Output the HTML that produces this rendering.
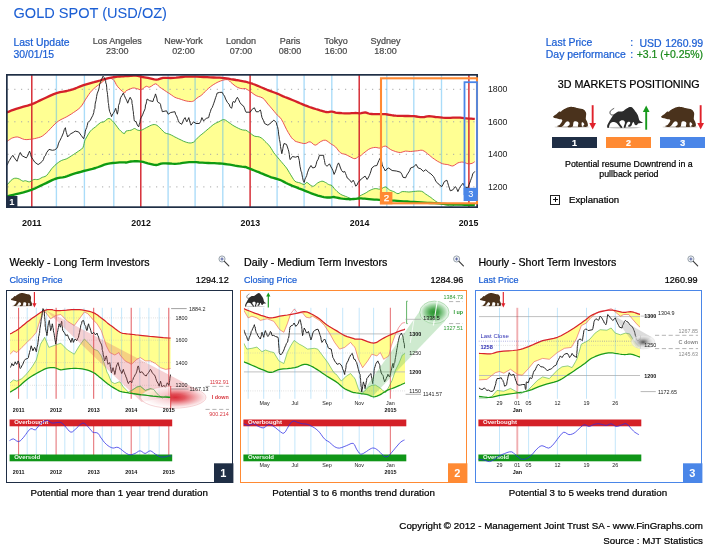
<!DOCTYPE html>
<html lang="en"><head><meta charset="utf-8"><title>GOLD SPOT (USD/OZ)</title>
<style>
html,body{margin:0;padding:0;background:#fff}
body{width:711px;height:552px;position:relative;overflow:hidden;font-family:"Liberation Sans",Arial,sans-serif;color:#000}
.t{position:absolute;white-space:nowrap;line-height:1;-webkit-text-stroke:0.22px currentColor}
svg{position:absolute;left:0;top:0;overflow:visible}
svg text{font-family:"Liberation Sans",Arial,sans-serif}
</style></head><body>
<svg width="711" height="552" viewBox="0 0 711 552">
<defs><clipPath id="cm"><rect x="7" y="75" width="470" height="132"/></clipPath></defs>
<rect x="7" y="75" width="470" height="132" fill="#fff"/>
<g clip-path="url(#cm)">
<path d="M6.0,112.7 L6.1,112.7 L6.1,112.6 L6.5,112.5 L7.4,112.2 L8.9,111.6 L10.9,110.7 L13.3,109.8 L16.1,108.8 L19.6,107.8 L23.5,106.7 L27.6,105.6 L31.3,104.4 L34.5,103.1 L37.3,101.8 L40.1,100.4 L43.1,99.0 L46.4,97.5 L49.8,95.9 L53.2,94.4 L56.6,93.1 L60.0,92.2 L63.4,91.6 L66.8,91.0 L70.1,90.2 L73.5,89.1 L76.9,87.8 L80.3,86.4 L83.6,85.2 L87.1,84.1 L90.6,83.1 L94.0,82.2 L97.1,81.3 L99.9,80.5 L102.4,79.7 L104.8,79.0 L107.3,78.4 L109.9,77.9 L112.5,77.4 L115.0,77.0 L117.4,76.7 L119.6,76.5 L121.8,76.4 L123.6,76.3 L125.0,76.2 L125.5,76.2 L125.3,76.2 L125.3,76.2 L126.0,76.2 L128.0,76.1 L130.8,75.9 L133.7,75.7 L136.1,75.7 L137.7,75.9 L138.9,76.1 L139.9,76.4 L141.2,76.7 L142.7,77.0 L144.4,77.3 L146.1,77.6 L147.9,77.9 L150.0,78.4 L152.2,78.9 L154.3,79.4 L156.4,79.6 L158.1,79.4 L159.6,78.9 L161.2,78.3 L163.1,77.9 L165.4,77.8 L167.9,77.9 L170.5,78.0 L173.3,77.9 L176.1,77.7 L179.1,77.3 L182.1,77.0 L185.1,76.7 L188.0,76.6 L190.9,76.6 L193.8,76.7 L196.9,76.7 L200.2,76.9 L203.6,77.0 L207.1,77.2 L210.4,77.4 L213.5,77.5 L216.6,77.6 L219.5,77.7 L222.2,77.9 L224.5,78.1 L226.5,78.4 L228.5,78.7 L230.6,79.1 L233.2,79.5 L236.0,80.0 L238.6,80.4 L240.8,80.8 L242.3,81.1 L243.4,81.3 L244.3,81.5 L245.0,81.6 L245.4,81.7 L245.5,81.7 L245.6,81.7 L246.0,81.8 L246.8,82.0 L247.8,82.3 L249.0,82.6 L250.2,83.0 L251.6,83.4 L253.0,84.0 L254.6,84.5 L256.1,85.2 L257.7,85.8 L259.3,86.5 L261.1,87.3 L262.9,88.0 L264.9,88.9 L267.1,89.8 L269.3,90.6 L271.3,91.4 L272.9,92.0 L274.3,92.5 L275.7,93.0 L277.2,93.6 L278.9,94.3 L280.8,95.2 L282.7,96.1 L284.8,97.0 L287.2,97.9 L289.7,98.9 L292.4,100.0 L294.9,101.0 L297.5,102.1 L300.1,103.3 L302.7,104.4 L305.1,105.4 L307.3,106.2 L309.4,107.0 L311.4,107.6 L313.5,108.3 L315.7,109.0 L317.9,109.6 L320.1,110.3 L321.9,110.8 L323.5,111.3 L324.7,111.7 L325.8,112.0 L327.0,112.2 L328.3,112.1 L329.5,111.9 L330.8,111.7 L332.1,111.7 L333.2,111.9 L334.3,112.2 L335.5,112.6 L337.1,112.8 L339.4,113.0 L342.0,113.2 L344.7,113.3 L347.3,113.4 L349.6,113.3 L351.8,113.2 L353.9,113.1 L355.7,113.0 L357.1,113.1 L358.1,113.2 L359.0,113.3 L360.0,113.4 L361.2,113.2 L362.5,112.9 L363.8,112.6 L365.1,112.5 L366.3,112.7 L367.5,113.1 L368.7,113.5 L370.1,113.9 L371.7,114.0 L373.3,114.1 L375.0,114.2 L376.9,114.2 L378.9,114.2 L381.0,114.1 L383.2,114.1 L385.3,114.2 L387.4,114.5 L389.5,114.8 L391.6,115.2 L393.8,115.5 L395.8,115.7 L397.8,115.8 L399.8,115.8 L402.2,115.9 L405.0,116.0 L408.1,116.0 L411.2,116.1 L414.0,116.2 L416.4,116.5 L418.5,116.8 L420.5,117.1 L422.4,117.2 L424.2,117.1 L425.8,116.7 L427.4,116.4 L429.2,116.2 L431.1,116.3 L433.2,116.6 L435.4,117.0 L437.6,117.2 L440.1,117.4 L442.6,117.7 L445.2,117.8 L447.8,117.9 L450.3,117.9 L452.9,117.7 L455.5,117.6 L457.9,117.6 L460.1,117.7 L462.2,117.9 L464.3,118.2 L466.3,118.4 L468.6,118.6 L471.1,118.7 L473.3,118.8 L474.8,118.9 L474.8,161.6 L474.2,162.1 L473.3,162.7 L472.2,163.3 L471.0,163.6 L469.5,163.8 L468.0,163.8 L466.4,163.3 L464.7,162.6 L463.0,162.1 L461.3,162.1 L459.6,162.4 L457.9,162.9 L456.2,164.0 L454.5,165.2 L452.8,166.0 L451.1,165.8 L449.5,165.2 L447.8,164.6 L446.1,164.4 L444.4,164.2 L442.7,163.8 L441.0,163.1 L439.3,162.2 L437.6,161.3 L435.9,160.2 L434.3,159.1 L432.6,157.9 L430.9,156.5 L429.2,155.0 L427.5,153.7 L425.8,152.3 L424.1,151.1 L422.4,150.3 L420.8,150.2 L419.2,150.5 L417.4,150.8 L415.2,151.0 L412.8,151.3 L410.6,151.5 L408.8,151.4 L407.2,151.2 L405.6,151.1 L403.9,151.5 L402.2,152.1 L400.5,152.5 L398.8,152.4 L397.1,152.0 L395.4,151.5 L393.8,150.9 L392.1,150.3 L390.4,149.4 L388.7,148.2 L387.0,146.8 L385.3,146.1 L383.6,146.4 L381.9,147.4 L380.3,148.1 L378.6,148.0 L376.9,147.6 L375.2,147.4 L373.5,147.6 L371.8,148.0 L370.1,148.6 L368.4,149.5 L366.8,150.7 L365.1,152.0 L363.2,153.5 L361.4,155.1 L360.0,156.2 L359.5,156.4 L359.5,156.2 L359.1,156.2 L357.9,157.0 L356.4,158.1 L354.9,158.7 L353.5,158.5 L352.1,157.8 L350.6,157.0 L349.0,156.2 L347.3,155.3 L345.6,154.5 L343.9,154.0 L342.2,153.7 L340.5,152.8 L338.8,151.1 L337.1,148.8 L335.5,146.9 L333.8,145.6 L332.1,144.6 L330.4,143.5 L328.7,142.2 L327.0,140.9 L325.3,140.2 L323.6,140.3 L321.9,141.0 L320.3,141.8 L318.6,143.1 L316.9,144.5 L315.2,145.2 L313.5,144.4 L311.8,142.8 L310.1,141.8 L308.4,142.1 L306.8,143.0 L305.1,143.5 L303.4,143.5 L301.7,143.1 L300.0,142.7 L298.2,142.2 L296.3,141.6 L294.9,141.0 L294.4,140.6 L294.4,140.3 L294.1,139.8 L293.5,139.5 L292.7,139.0 L291.6,137.8 L290.1,135.5 L288.3,132.6 L286.5,129.4 L284.8,125.9 L283.1,122.3 L281.4,119.3 L280.0,117.4 L278.6,116.3 L277.2,115.0 L275.8,113.4 L274.5,111.8 L273.0,110.0 L271.4,108.1 L269.7,106.1 L267.9,104.1 L266.3,102.0 L264.7,99.9 L262.9,98.2 L260.7,97.1 L258.4,96.5 L256.1,95.6 L254.0,94.3 L252.0,92.8 L250.2,91.4 L248.6,90.4 L247.1,89.5 L246.0,88.9 L245.5,88.6 L245.4,88.5 L245.0,88.5 L243.8,88.6 L242.4,88.7 L240.8,88.5 L239.1,88.0 L237.4,87.3 L235.7,86.3 L234.0,85.0 L232.2,83.5 L230.6,82.1 L229.5,81.0 L228.5,80.1 L227.3,79.6 L225.7,79.6 L224.0,79.9 L222.2,80.4 L220.5,81.0 L218.8,81.7 L217.1,82.5 L215.5,83.4 L213.8,84.4 L212.1,85.5 L210.4,86.8 L208.7,88.2 L207.0,89.7 L205.3,91.4 L203.6,93.2 L201.9,94.8 L200.2,96.1 L198.4,97.1 L196.9,98.2 L195.6,99.2 L194.6,100.3 L193.5,101.0 L192.4,101.4 L191.4,101.6 L190.1,101.5 L188.6,101.4 L186.8,101.1 L185.1,100.7 L183.4,100.2 L181.7,99.6 L180.0,99.0 L178.3,98.5 L176.6,98.0 L174.9,97.3 L173.3,96.3 L171.6,95.1 L169.9,93.9 L168.2,92.8 L166.5,91.7 L164.8,90.6 L163.1,89.4 L161.4,88.3 L159.8,87.2 L158.3,85.8 L157.0,84.4 L155.5,83.8 L153.6,84.6 L151.5,86.1 L149.6,87.2 L148.4,87.1 L147.4,86.5 L146.3,86.3 L144.6,87.3 L142.8,88.8 L141.2,89.7 L140.0,89.8 L139.0,89.3 L137.8,88.9 L136.3,88.5 L134.6,88.0 L132.8,88.0 L130.4,88.8 L127.9,89.9 L126.0,90.9 L125.3,91.7 L125.2,92.4 L125.0,92.8 L124.3,92.7 L123.5,92.3 L122.5,91.4 L120.9,90.0 L119.0,88.2 L117.4,86.3 L116.1,84.3 L115.1,82.2 L114.0,80.4 L113.0,79.4 L111.9,78.7 L110.6,78.4 L109.1,78.5 L107.3,78.9 L105.6,79.6 L103.9,80.7 L102.2,82.1 L100.5,83.5 L98.8,84.7 L97.1,85.9 L95.5,87.2 L93.8,88.7 L92.1,90.3 L90.4,92.3 L88.7,94.6 L87.0,97.2 L85.3,99.8 L83.7,102.5 L82.1,105.1 L80.3,107.4 L78.1,109.3 L75.8,111.0 L73.5,112.5 L71.3,114.0 L69.0,115.4 L66.8,116.7 L64.4,117.9 L62.1,119.0 L60.0,120.1 L58.3,121.2 L56.7,122.4 L54.9,124.0 L52.8,126.2 L50.4,128.7 L48.2,131.1 L46.2,133.0 L44.2,134.7 L42.3,136.1 L40.3,137.1 L38.3,137.7 L36.4,138.2 L34.7,138.6 L33.1,138.9 L31.3,139.2 L29.2,139.4 L26.9,139.6 L24.6,139.5 L22.3,138.8 L19.9,137.7 L17.8,137.0 L15.9,137.0 L14.2,137.4 L12.8,137.8 L11.7,138.2 L11.0,138.7 L10.2,139.2 L9.2,139.9 L8.2,140.6 L7.4,141.2 L6.7,141.4 L6.3,141.5 L6.0,141.5Z" fill="#ffff93"/>
<path d="M6.0,185.2 L6.2,185.2 L6.6,185.2 L7.4,184.5 L8.9,182.9 L10.8,180.6 L12.8,179.0 L14.5,178.3 L16.1,178.2 L17.8,178.5 L19.6,179.2 L21.4,180.4 L22.9,181.2 L23.8,181.2 L24.5,180.8 L25.4,180.7 L26.7,181.1 L28.2,181.7 L29.6,181.8 L31.0,181.2 L32.4,180.2 L33.8,179.5 L35.3,179.4 L36.7,179.6 L38.1,179.5 L39.5,178.9 L40.9,178.1 L42.3,177.3 L43.7,176.9 L45.0,176.5 L46.5,175.6 L48.1,173.7 L49.9,171.2 L51.6,168.8 L53.3,167.0 L54.9,165.3 L56.6,163.8 L58.3,162.5 L60.0,161.3 L61.7,160.4 L63.3,159.8 L64.9,159.4 L66.8,158.7 L68.9,157.5 L71.3,155.9 L73.5,154.5 L75.4,153.3 L77.0,152.2 L78.6,151.1 L80.1,150.1 L81.6,149.1 L82.8,147.8 L83.6,145.8 L84.1,143.6 L84.5,141.8 L84.7,141.0 L84.8,140.6 L85.3,139.5 L86.7,137.0 L88.5,133.8 L90.4,131.1 L92.1,129.4 L93.8,128.1 L95.5,126.9 L97.2,125.3 L99.0,123.8 L100.5,122.6 L101.7,122.2 L102.7,122.1 L103.9,121.8 L105.5,120.6 L107.2,119.1 L109.0,118.4 L110.6,119.2 L112.3,120.8 L114.0,122.6 L115.7,124.8 L117.4,127.2 L119.1,129.4 L120.9,131.2 L122.7,132.8 L124.1,133.6 L124.9,133.2 L125.3,132.0 L126.0,131.1 L127.5,130.7 L129.4,130.5 L131.1,130.2 L132.3,129.6 L133.4,128.9 L134.4,128.5 L135.6,128.9 L136.7,129.7 L137.8,130.2 L138.9,130.4 L139.9,130.5 L141.2,130.2 L142.8,129.6 L144.5,128.6 L146.3,127.7 L148.0,126.8 L149.7,125.9 L151.3,125.2 L152.8,124.7 L154.2,124.5 L155.5,124.7 L156.9,125.3 L158.3,126.4 L159.8,127.7 L161.4,129.4 L163.1,131.2 L164.8,132.8 L166.5,133.5 L168.2,133.9 L169.9,134.4 L171.6,135.2 L173.3,136.1 L174.9,137.0 L176.6,137.8 L178.3,138.7 L180.0,139.5 L181.7,140.3 L183.4,141.2 L185.1,141.8 L186.8,142.4 L188.5,142.8 L190.1,143.0 L191.7,142.8 L193.2,142.3 L194.4,141.8 L194.8,141.4 L194.9,141.0 L195.2,140.4 L196.1,139.4 L197.2,138.2 L198.6,137.0 L200.1,135.6 L201.9,134.2 L203.6,132.8 L205.3,131.4 L207.0,129.9 L208.7,128.5 L210.4,127.1 L212.1,125.6 L213.8,124.3 L215.5,123.3 L217.1,122.5 L218.8,121.8 L220.5,120.8 L222.2,119.9 L223.9,119.6 L225.6,120.2 L227.3,121.4 L229.0,122.6 L230.6,123.7 L232.2,124.9 L234.0,126.0 L236.2,127.2 L238.6,128.4 L240.8,129.4 L242.5,129.9 L243.9,130.1 L245.0,130.2 L245.4,130.2 L245.5,130.0 L246.0,130.2 L247.2,131.0 L248.7,132.0 L250.2,133.1 L251.6,134.2 L253.0,135.3 L254.4,136.1 L256.1,136.5 L257.8,136.6 L259.5,137.0 L261.1,137.8 L262.6,138.9 L263.7,139.8 L264.1,140.2 L264.1,140.4 L264.6,141.0 L266.0,142.3 L267.8,144.1 L269.6,146.1 L271.1,148.3 L272.5,150.6 L273.8,152.8 L275.3,154.6 L276.7,156.3 L278.1,157.9 L279.5,159.6 L280.9,161.3 L282.3,162.9 L283.7,164.6 L285.1,166.2 L286.5,168.0 L287.9,170.1 L289.3,172.5 L290.7,174.8 L292.1,177.1 L293.5,179.4 L294.9,181.2 L296.6,182.1 L298.4,182.5 L300.0,182.9 L301.5,183.6 L303.0,184.3 L304.2,184.5 L305.2,183.9 L305.9,182.9 L306.8,182.4 L307.8,182.9 L309.0,184.0 L310.1,184.9 L311.2,185.6 L312.3,186.2 L313.5,186.2 L314.9,185.4 L316.3,184.0 L317.7,182.9 L319.2,182.1 L320.6,181.5 L321.9,181.2 L323.1,181.3 L324.2,181.8 L325.3,182.4 L326.5,183.0 L327.6,183.9 L328.7,184.5 L329.8,184.9 L331.0,185.1 L332.1,185.7 L333.1,186.9 L334.2,188.4 L335.5,189.9 L337.0,191.4 L338.8,192.9 L340.5,194.2 L342.2,195.1 L343.9,195.7 L345.6,196.4 L347.3,197.1 L349.0,197.8 L350.6,198.4 L352.4,198.9 L354.1,199.0 L355.7,198.9 L357.2,198.4 L358.5,197.1 L360.0,195.9 L361.6,195.0 L363.3,194.2 L365.1,193.3 L366.8,192.3 L368.4,191.2 L370.1,190.3 L371.8,189.5 L373.5,188.9 L375.2,188.6 L376.9,188.7 L378.6,189.1 L380.3,189.1 L382.0,188.4 L383.7,187.4 L385.3,186.9 L386.8,187.6 L388.2,188.8 L389.5,189.9 L390.9,190.6 L392.3,191.1 L393.8,191.6 L395.2,192.4 L396.6,193.3 L398.0,193.7 L399.3,193.2 L400.6,192.3 L402.2,191.6 L404.3,191.6 L406.6,191.8 L408.9,192.0 L411.2,191.8 L413.5,191.5 L415.7,191.3 L417.8,191.1 L419.8,191.1 L421.6,191.3 L423.1,192.0 L424.4,193.1 L425.8,194.2 L427.4,195.2 L429.2,196.4 L430.9,197.5 L432.6,198.9 L434.3,200.2 L435.9,201.4 L437.6,202.4 L439.3,203.1 L441.0,203.7 L442.7,203.8 L444.4,203.9 L446.1,204.0 L447.8,204.1 L449.5,204.2 L451.1,204.3 L452.8,204.4 L454.5,204.4 L456.2,204.5 L457.8,204.5 L459.5,204.3 L461.3,204.3 L463.4,204.6 L465.7,204.8 L468.0,204.9 L470.5,205.0 L473.0,204.7 L474.8,204.3 L474.8,205.1 L473.0,205.1 L470.5,205.0 L468.0,204.9 L465.7,204.8 L463.4,204.8 L461.3,204.7 L459.5,204.6 L457.8,204.6 L456.2,204.5 L454.5,204.4 L452.8,204.4 L451.1,204.3 L449.5,204.2 L447.8,204.1 L446.1,204.0 L444.4,203.9 L442.7,203.8 L441.0,203.7 L439.3,203.6 L437.6,203.4 L435.9,203.3 L434.3,203.2 L432.6,203.1 L430.9,203.0 L429.2,202.9 L427.4,202.8 L425.8,202.7 L424.4,202.6 L423.1,202.5 L421.6,202.4 L419.8,202.3 L417.8,202.2 L415.7,202.1 L413.5,201.9 L411.2,201.8 L408.9,201.7 L406.6,201.5 L404.3,201.4 L402.2,201.2 L400.6,201.1 L399.3,201.1 L398.0,201.0 L396.6,200.9 L395.2,200.8 L393.8,200.6 L392.3,200.5 L390.9,200.4 L389.5,200.3 L388.2,200.2 L386.8,200.1 L385.3,200.0 L383.7,199.9 L382.0,199.9 L380.3,199.9 L378.6,199.8 L376.9,199.7 L375.2,199.6 L373.5,199.5 L371.8,199.3 L370.1,199.2 L368.4,199.0 L366.8,198.9 L365.1,198.7 L363.3,198.6 L361.6,198.5 L360.0,198.4 L358.5,198.6 L357.2,198.7 L355.7,198.9 L354.1,199.0 L352.4,199.1 L350.6,199.2 L349.0,199.2 L347.3,199.1 L345.6,199.0 L343.9,198.8 L342.2,198.6 L340.5,198.4 L338.8,198.1 L337.0,197.6 L335.5,197.3 L334.2,197.1 L333.1,197.0 L332.1,197.1 L331.0,197.3 L329.8,197.5 L328.7,197.5 L327.6,197.5 L326.5,197.4 L325.3,197.3 L324.2,197.1 L323.1,196.9 L321.9,196.7 L320.6,196.4 L319.2,196.0 L317.7,195.6 L316.3,195.1 L314.9,194.6 L313.5,194.2 L312.3,193.7 L311.2,193.3 L310.1,192.9 L309.0,192.4 L307.8,191.9 L306.8,191.5 L305.9,191.1 L305.2,190.8 L304.2,190.5 L303.0,190.0 L301.5,189.4 L300.0,188.8 L298.4,188.1 L296.6,187.4 L294.9,186.8 L293.5,186.2 L292.1,185.7 L290.7,185.1 L289.3,184.5 L287.9,183.9 L286.5,183.2 L285.1,182.5 L283.7,181.7 L282.3,181.0 L280.9,180.3 L279.5,179.7 L278.1,179.2 L276.7,178.8 L275.3,178.4 L273.8,178.1 L272.5,177.6 L271.1,177.2 L269.6,176.7 L267.8,176.0 L266.0,175.2 L264.6,174.6 L264.1,174.4 L264.1,174.4 L263.7,174.3 L262.6,173.8 L261.1,173.2 L259.5,172.6 L257.8,171.9 L256.1,171.2 L254.4,170.5 L253.0,169.9 L251.6,169.4 L250.2,168.8 L248.7,168.2 L247.2,167.6 L246.0,167.2 L245.5,167.0 L245.4,167.0 L245.0,167.0 L243.9,166.9 L242.5,166.7 L240.8,166.4 L238.6,166.2 L236.2,165.8 L234.0,165.4 L232.2,165.1 L230.6,164.8 L229.0,164.5 L227.3,164.3 L225.6,164.1 L223.9,163.9 L222.2,163.7 L220.5,163.5 L218.8,163.4 L217.1,163.3 L215.5,163.2 L213.8,163.1 L212.1,163.1 L210.4,163.1 L208.7,163.1 L207.0,163.0 L205.3,162.9 L203.6,162.8 L201.9,162.7 L200.1,162.5 L198.6,162.4 L197.2,162.3 L196.1,162.2 L195.2,162.2 L194.9,162.2 L194.8,162.2 L194.4,162.1 L193.2,162.1 L191.7,162.1 L190.1,162.2 L188.5,162.3 L186.8,162.4 L185.1,162.6 L183.4,162.8 L181.7,163.0 L180.0,163.3 L178.3,163.5 L176.6,163.7 L174.9,163.8 L173.3,163.8 L171.6,163.7 L169.9,163.6 L168.2,163.5 L166.5,163.3 L164.8,163.3 L163.1,163.3 L161.4,163.6 L159.8,164.1 L158.3,164.7 L156.9,164.9 L155.5,164.9 L154.2,164.7 L152.8,164.5 L151.3,164.1 L149.7,163.7 L148.0,163.3 L146.3,162.8 L144.5,162.3 L142.8,161.9 L141.2,161.6 L139.9,161.5 L138.9,161.4 L137.8,161.3 L136.7,161.2 L135.6,161.2 L134.4,161.2 L133.4,161.2 L132.3,161.3 L131.1,161.5 L129.4,161.8 L127.5,162.3 L126.0,162.6 L125.3,162.3 L124.9,162.3 L124.1,162.3 L122.7,162.3 L120.9,162.4 L119.1,162.5 L117.4,162.6 L115.7,162.7 L114.0,162.8 L112.3,163.0 L110.6,163.2 L109.0,163.5 L107.2,163.8 L105.5,164.3 L103.9,164.9 L102.7,165.3 L101.7,165.7 L100.5,166.2 L99.0,166.8 L97.2,167.4 L95.5,168.0 L93.8,168.5 L92.1,168.9 L90.4,169.4 L88.5,169.8 L86.7,170.3 L85.3,170.6 L84.8,170.8 L84.7,170.8 L84.5,170.8 L84.1,170.9 L83.6,171.1 L82.8,171.3 L81.6,171.6 L80.1,172.0 L78.6,172.4 L77.0,172.9 L75.4,173.4 L73.5,173.9 L71.3,174.6 L68.9,175.5 L66.8,176.3 L64.9,176.8 L63.3,177.2 L61.7,177.5 L60.0,177.7 L58.3,178.1 L56.6,178.5 L54.9,179.0 L53.3,179.7 L51.6,180.4 L49.9,181.2 L48.1,182.1 L46.5,182.9 L45.0,183.6 L43.7,184.3 L42.3,185.0 L40.9,185.6 L39.5,186.3 L38.1,187.0 L36.7,187.7 L35.3,188.3 L33.8,188.9 L32.4,189.5 L31.0,190.0 L29.6,190.5 L28.2,191.0 L26.7,191.4 L25.4,191.7 L24.5,192.0 L23.8,192.2 L22.9,192.4 L21.4,192.8 L19.6,193.3 L17.8,193.7 L16.1,194.2 L14.5,194.6 L12.8,195.0 L10.8,195.5 L8.9,196.0 L7.4,196.4 L6.6,196.6 L6.2,196.7 L6.0,196.9Z" fill="#ffff93"/>
<line x1="7.5" x2="477" y1="89.3" y2="89.3" stroke="#a8a8a8" stroke-width="1" stroke-dasharray="1.2 5.55"/>
<line x1="7.5" x2="477" y1="121.8" y2="121.8" stroke="#a8a8a8" stroke-width="1" stroke-dasharray="1.2 5.55"/>
<line x1="7.5" x2="477" y1="154.3" y2="154.3" stroke="#a8a8a8" stroke-width="1" stroke-dasharray="1.2 5.55"/>
<line x1="7.5" x2="477" y1="186.9" y2="186.9" stroke="#a8a8a8" stroke-width="1" stroke-dasharray="1.2 5.55"/>
<line x1="56.4" x2="56.4" y1="75" y2="207" stroke="#56b9f3" stroke-opacity="0.5" stroke-width="1.35"/>
<line x1="84.4" x2="84.4" y1="75" y2="207" stroke="#56b9f3" stroke-opacity="0.5" stroke-width="1.35"/>
<line x1="113.8" x2="113.8" y1="75" y2="207" stroke="#56b9f3" stroke-opacity="0.5" stroke-width="1.35"/>
<line x1="168.1" x2="168.1" y1="75" y2="207" stroke="#56b9f3" stroke-opacity="0.5" stroke-width="1.35"/>
<line x1="195.1" x2="195.1" y1="75" y2="207" stroke="#56b9f3" stroke-opacity="0.5" stroke-width="1.35"/>
<line x1="222.8" x2="222.8" y1="75" y2="207" stroke="#56b9f3" stroke-opacity="0.5" stroke-width="1.35"/>
<line x1="277.1" x2="277.1" y1="75" y2="207" stroke="#56b9f3" stroke-opacity="0.5" stroke-width="1.35"/>
<line x1="304.1" x2="304.1" y1="75" y2="207" stroke="#56b9f3" stroke-opacity="0.5" stroke-width="1.35"/>
<line x1="331.8" x2="331.8" y1="75" y2="207" stroke="#56b9f3" stroke-opacity="0.5" stroke-width="1.35"/>
<line x1="386.8" x2="386.8" y1="75" y2="207" stroke="#56b9f3" stroke-opacity="0.5" stroke-width="1.35"/>
<line x1="413.8" x2="413.8" y1="75" y2="207" stroke="#56b9f3" stroke-opacity="0.5" stroke-width="1.35"/>
<line x1="441.5" x2="441.5" y1="75" y2="207" stroke="#56b9f3" stroke-opacity="0.5" stroke-width="1.35"/>
<line x1="31.8" x2="31.8" y1="75" y2="207" stroke="#d4202a" stroke-width="1.4"/>
<line x1="140.8" x2="140.8" y1="75" y2="207" stroke="#d4202a" stroke-width="1.4"/>
<line x1="250.1" x2="250.1" y1="75" y2="207" stroke="#d4202a" stroke-width="1.4"/>
<line x1="359.2" x2="359.2" y1="75" y2="207" stroke="#d4202a" stroke-width="1.4"/>
<line x1="468.9" x2="468.9" y1="75" y2="207" stroke="#d4202a" stroke-width="1.4"/>
<path d="M6.0,141.5 L6.3,141.5 L6.7,141.4 L7.4,141.2 L8.2,140.6 L9.2,139.9 L10.2,139.2 L11.0,138.7 L11.7,138.2 L12.8,137.8 L14.2,137.4 L15.9,137.0 L17.8,137.0 L19.9,137.7 L22.3,138.8 L24.6,139.5 L26.9,139.6 L29.2,139.4 L31.3,139.2 L33.1,138.9 L34.7,138.6 L36.4,138.2 L38.3,137.7 L40.3,137.1 L42.3,136.1 L44.2,134.7 L46.2,133.0 L48.2,131.1 L50.4,128.7 L52.8,126.2 L54.9,124.0 L56.7,122.4 L58.3,121.2 L60.0,120.1 L62.1,119.0 L64.4,117.9 L66.8,116.7 L69.0,115.4 L71.3,114.0 L73.5,112.5 L75.8,111.0 L78.1,109.3 L80.3,107.4 L82.1,105.1 L83.7,102.5 L85.3,99.8 L87.0,97.2 L88.7,94.6 L90.4,92.3 L92.1,90.3 L93.8,88.7 L95.5,87.2 L97.1,85.9 L98.8,84.7 L100.5,83.5 L102.2,82.1 L103.9,80.7 L105.6,79.6 L107.3,78.9 L109.1,78.5 L110.6,78.4 L111.9,78.7 L113.0,79.4 L114.0,80.4 L115.1,82.2 L116.1,84.3 L117.4,86.3 L119.0,88.2 L120.9,90.0 L122.5,91.4 L123.5,92.3 L124.3,92.7 L125.0,92.8 L125.2,92.4 L125.3,91.7 L126.0,90.9 L127.9,89.9 L130.4,88.8 L132.8,88.0 L134.6,88.0 L136.3,88.5 L137.8,88.9 L139.0,89.3 L140.0,89.8 L141.2,89.7 L142.8,88.8 L144.6,87.3 L146.3,86.3 L147.4,86.5 L148.4,87.1 L149.6,87.2 L151.5,86.1 L153.6,84.6 L155.5,83.8 L157.0,84.4 L158.3,85.8 L159.8,87.2 L161.4,88.3 L163.1,89.4 L164.8,90.6 L166.5,91.7 L168.2,92.8 L169.9,93.9 L171.6,95.1 L173.3,96.3 L174.9,97.3 L176.6,98.0 L178.3,98.5 L180.0,99.0 L181.7,99.6 L183.4,100.2 L185.1,100.7 L186.8,101.1 L188.6,101.4 L190.1,101.5 L191.4,101.6 L192.4,101.4 L193.5,101.0 L194.6,100.3 L195.6,99.2 L196.9,98.2 L198.4,97.1 L200.2,96.1 L201.9,94.8 L203.6,93.2 L205.3,91.4 L207.0,89.7 L208.7,88.2 L210.4,86.8 L212.1,85.5 L213.8,84.4 L215.5,83.4 L217.1,82.5 L218.8,81.7 L220.5,81.0 L222.2,80.4 L224.0,79.9 L225.7,79.6 L227.3,79.6 L228.5,80.1 L229.5,81.0 L230.6,82.1 L232.2,83.5 L234.0,85.0 L235.7,86.3 L237.4,87.3 L239.1,88.0 L240.8,88.5 L242.4,88.7 L243.8,88.6 L245.0,88.5 L245.4,88.5 L245.5,88.6 L246.0,88.9 L247.1,89.5 L248.6,90.4 L250.2,91.4 L252.0,92.8 L254.0,94.3 L256.1,95.6 L258.4,96.5 L260.7,97.1 L262.9,98.2 L264.7,99.9 L266.3,102.0 L267.9,104.1 L269.7,106.1 L271.4,108.1 L273.0,110.0 L274.5,111.8 L275.8,113.4 L277.2,115.0 L278.6,116.3 L280.0,117.4 L281.4,119.3 L283.1,122.3 L284.8,125.9 L286.5,129.4 L288.3,132.6 L290.1,135.5 L291.6,137.8 L292.7,139.0 L293.5,139.5 L294.1,139.8 L294.4,140.3 L294.4,140.6 L294.9,141.0 L296.3,141.6 L298.2,142.2 L300.0,142.7 L301.7,143.1 L303.4,143.5 L305.1,143.5 L306.8,143.0 L308.4,142.1 L310.1,141.8 L311.8,142.8 L313.5,144.4 L315.2,145.2 L316.9,144.5 L318.6,143.1 L320.3,141.8 L321.9,141.0 L323.6,140.3 L325.3,140.2 L327.0,140.9 L328.7,142.2 L330.4,143.5 L332.1,144.6 L333.8,145.6 L335.5,146.9 L337.1,148.8 L338.8,151.1 L340.5,152.8 L342.2,153.7 L343.9,154.0 L345.6,154.5 L347.3,155.3 L349.0,156.2 L350.6,157.0 L352.1,157.8 L353.5,158.5 L354.9,158.7 L356.4,158.1 L357.9,157.0 L359.1,156.2 L359.5,156.2 L359.5,156.4 L360.0,156.2 L361.4,155.1 L363.2,153.5 L365.1,152.0 L366.8,150.7 L368.4,149.5 L370.1,148.6 L371.8,148.0 L373.5,147.6 L375.2,147.4 L376.9,147.6 L378.6,148.0 L380.3,148.1 L381.9,147.4 L383.6,146.4 L385.3,146.1 L387.0,146.8 L388.7,148.2 L390.4,149.4 L392.1,150.3 L393.8,150.9 L395.4,151.5 L397.1,152.0 L398.8,152.4 L400.5,152.5 L402.2,152.1 L403.9,151.5 L405.6,151.1 L407.2,151.2 L408.8,151.4 L410.6,151.5 L412.8,151.3 L415.2,151.0 L417.4,150.8 L419.2,150.5 L420.8,150.2 L422.4,150.3 L424.1,151.1 L425.8,152.3 L427.5,153.7 L429.2,155.0 L430.9,156.5 L432.6,157.9 L434.3,159.1 L435.9,160.2 L437.6,161.3 L439.3,162.2 L441.0,163.1 L442.7,163.8 L444.4,164.2 L446.1,164.4 L447.8,164.6 L449.5,165.2 L451.1,165.8 L452.8,166.0 L454.5,165.2 L456.2,164.0 L457.9,162.9 L459.6,162.4 L461.3,162.1 L463.0,162.1 L464.7,162.6 L466.4,163.3 L468.0,163.8 L469.5,163.8 L471.0,163.6 L472.2,163.3 L473.3,162.7 L474.2,162.1 L474.8,161.6" fill="none" stroke="#e8414b" stroke-width="0.9"/>
<path d="M6.0,185.2 L6.2,185.2 L6.6,185.2 L7.4,184.5 L8.9,182.9 L10.8,180.6 L12.8,179.0 L14.5,178.3 L16.1,178.2 L17.8,178.5 L19.6,179.2 L21.4,180.4 L22.9,181.2 L23.8,181.2 L24.5,180.8 L25.4,180.7 L26.7,181.1 L28.2,181.7 L29.6,181.8 L31.0,181.2 L32.4,180.2 L33.8,179.5 L35.3,179.4 L36.7,179.6 L38.1,179.5 L39.5,178.9 L40.9,178.1 L42.3,177.3 L43.7,176.9 L45.0,176.5 L46.5,175.6 L48.1,173.7 L49.9,171.2 L51.6,168.8 L53.3,167.0 L54.9,165.3 L56.6,163.8 L58.3,162.5 L60.0,161.3 L61.7,160.4 L63.3,159.8 L64.9,159.4 L66.8,158.7 L68.9,157.5 L71.3,155.9 L73.5,154.5 L75.4,153.3 L77.0,152.2 L78.6,151.1 L80.1,150.1 L81.6,149.1 L82.8,147.8 L83.6,145.8 L84.1,143.6 L84.5,141.8 L84.7,141.0 L84.8,140.6 L85.3,139.5 L86.7,137.0 L88.5,133.8 L90.4,131.1 L92.1,129.4 L93.8,128.1 L95.5,126.9 L97.2,125.3 L99.0,123.8 L100.5,122.6 L101.7,122.2 L102.7,122.1 L103.9,121.8 L105.5,120.6 L107.2,119.1 L109.0,118.4 L110.6,119.2 L112.3,120.8 L114.0,122.6 L115.7,124.8 L117.4,127.2 L119.1,129.4 L120.9,131.2 L122.7,132.8 L124.1,133.6 L124.9,133.2 L125.3,132.0 L126.0,131.1 L127.5,130.7 L129.4,130.5 L131.1,130.2 L132.3,129.6 L133.4,128.9 L134.4,128.5 L135.6,128.9 L136.7,129.7 L137.8,130.2 L138.9,130.4 L139.9,130.5 L141.2,130.2 L142.8,129.6 L144.5,128.6 L146.3,127.7 L148.0,126.8 L149.7,125.9 L151.3,125.2 L152.8,124.7 L154.2,124.5 L155.5,124.7 L156.9,125.3 L158.3,126.4 L159.8,127.7 L161.4,129.4 L163.1,131.2 L164.8,132.8 L166.5,133.5 L168.2,133.9 L169.9,134.4 L171.6,135.2 L173.3,136.1 L174.9,137.0 L176.6,137.8 L178.3,138.7 L180.0,139.5 L181.7,140.3 L183.4,141.2 L185.1,141.8 L186.8,142.4 L188.5,142.8 L190.1,143.0 L191.7,142.8 L193.2,142.3 L194.4,141.8 L194.8,141.4 L194.9,141.0 L195.2,140.4 L196.1,139.4 L197.2,138.2 L198.6,137.0 L200.1,135.6 L201.9,134.2 L203.6,132.8 L205.3,131.4 L207.0,129.9 L208.7,128.5 L210.4,127.1 L212.1,125.6 L213.8,124.3 L215.5,123.3 L217.1,122.5 L218.8,121.8 L220.5,120.8 L222.2,119.9 L223.9,119.6 L225.6,120.2 L227.3,121.4 L229.0,122.6 L230.6,123.7 L232.2,124.9 L234.0,126.0 L236.2,127.2 L238.6,128.4 L240.8,129.4 L242.5,129.9 L243.9,130.1 L245.0,130.2 L245.4,130.2 L245.5,130.0 L246.0,130.2 L247.2,131.0 L248.7,132.0 L250.2,133.1 L251.6,134.2 L253.0,135.3 L254.4,136.1 L256.1,136.5 L257.8,136.6 L259.5,137.0 L261.1,137.8 L262.6,138.9 L263.7,139.8 L264.1,140.2 L264.1,140.4 L264.6,141.0 L266.0,142.3 L267.8,144.1 L269.6,146.1 L271.1,148.3 L272.5,150.6 L273.8,152.8 L275.3,154.6 L276.7,156.3 L278.1,157.9 L279.5,159.6 L280.9,161.3 L282.3,162.9 L283.7,164.6 L285.1,166.2 L286.5,168.0 L287.9,170.1 L289.3,172.5 L290.7,174.8 L292.1,177.1 L293.5,179.4 L294.9,181.2 L296.6,182.1 L298.4,182.5 L300.0,182.9 L301.5,183.6 L303.0,184.3 L304.2,184.5 L305.2,183.9 L305.9,182.9 L306.8,182.4 L307.8,182.9 L309.0,184.0 L310.1,184.9 L311.2,185.6 L312.3,186.2 L313.5,186.2 L314.9,185.4 L316.3,184.0 L317.7,182.9 L319.2,182.1 L320.6,181.5 L321.9,181.2 L323.1,181.3 L324.2,181.8 L325.3,182.4 L326.5,183.0 L327.6,183.9 L328.7,184.5 L329.8,184.9 L331.0,185.1 L332.1,185.7 L333.1,186.9 L334.2,188.4 L335.5,189.9 L337.0,191.4 L338.8,192.9 L340.5,194.2 L342.2,195.1 L343.9,195.7 L345.6,196.4 L347.3,197.1 L349.0,197.8 L350.6,198.4 L352.4,198.9 L354.1,199.3 L355.7,199.2 L357.2,198.4 L358.5,197.1 L360.0,195.9 L361.6,195.0 L363.3,194.2 L365.1,193.3 L366.8,192.3 L368.4,191.2 L370.1,190.3 L371.8,189.5 L373.5,188.9 L375.2,188.6 L376.9,188.7 L378.6,189.1 L380.3,189.1 L382.0,188.4 L383.7,187.4 L385.3,186.9 L386.8,187.6 L388.2,188.8 L389.5,189.9 L390.9,190.6 L392.3,191.1 L393.8,191.6 L395.2,192.4 L396.6,193.3 L398.0,193.7 L399.3,193.2 L400.6,192.3 L402.2,191.6 L404.3,191.6 L406.6,191.8 L408.9,192.0 L411.2,191.8 L413.5,191.5 L415.7,191.3 L417.8,191.1 L419.8,191.1 L421.6,191.3 L423.1,192.0 L424.4,193.1 L425.8,194.2 L427.4,195.2 L429.2,196.4 L430.9,197.5 L432.6,198.9 L434.3,200.2 L435.9,201.4 L437.6,202.4 L439.3,203.1 L441.0,203.8 L442.7,204.3 L444.4,204.8 L446.1,205.1 L447.8,205.5 L449.5,205.9 L451.1,206.0 L452.8,205.7 L454.5,205.2 L456.2,204.8 L457.8,204.5 L459.5,204.3 L461.3,204.3 L463.4,204.6 L465.7,205.2 L468.0,205.5 L470.5,205.2 L473.0,204.7 L474.8,204.3" fill="none" stroke="#3aa83a" stroke-width="0.9"/>
<path d="M6.0,112.7 L6.1,112.7 L6.1,112.6 L6.5,112.5 L7.4,112.2 L8.9,111.6 L10.9,110.7 L13.3,109.8 L16.1,108.8 L19.6,107.8 L23.5,106.7 L27.6,105.6 L31.3,104.4 L34.5,103.1 L37.3,101.8 L40.1,100.4 L43.1,99.0 L46.4,97.5 L49.8,95.9 L53.2,94.4 L56.6,93.1 L60.0,92.2 L63.4,91.6 L66.8,91.0 L70.1,90.2 L73.5,89.1 L76.9,87.8 L80.3,86.4 L83.6,85.2 L87.1,84.1 L90.6,83.1 L94.0,82.2 L97.1,81.3 L99.9,80.5 L102.4,79.7 L104.8,79.0 L107.3,78.4 L109.9,77.9 L112.5,77.4 L115.0,77.0 L117.4,76.7 L119.6,76.5 L121.8,76.4 L123.6,76.3 L125.0,76.2 L125.5,76.2 L125.3,76.2 L125.3,76.2 L126.0,76.2 L128.0,76.1 L130.8,75.9 L133.7,75.7 L136.1,75.7 L137.7,75.9 L138.9,76.1 L139.9,76.4 L141.2,76.7 L142.7,77.0 L144.4,77.3 L146.1,77.6 L147.9,77.9 L150.0,78.4 L152.2,78.9 L154.3,79.4 L156.4,79.6 L158.1,79.4 L159.6,78.9 L161.2,78.3 L163.1,77.9 L165.4,77.8 L167.9,77.9 L170.5,78.0 L173.3,77.9 L176.1,77.7 L179.1,77.3 L182.1,77.0 L185.1,76.7 L188.0,76.6 L190.9,76.6 L193.8,76.7 L196.9,76.7 L200.2,76.9 L203.6,77.0 L207.1,77.2 L210.4,77.4 L213.5,77.5 L216.6,77.6 L219.5,77.7 L222.2,77.9 L224.5,78.1 L226.5,78.4 L228.5,78.7 L230.6,79.1 L233.2,79.5 L236.0,80.0 L238.6,80.4 L240.8,80.8 L242.3,81.1 L243.4,81.3 L244.3,81.5 L245.0,81.6 L245.4,81.7 L245.5,81.7 L245.6,81.7 L246.0,81.8 L246.8,82.0 L247.8,82.3 L249.0,82.6 L250.2,83.0 L251.6,83.4 L253.0,84.0 L254.6,84.5 L256.1,85.2 L257.7,85.8 L259.3,86.5 L261.1,87.3 L262.9,88.0 L264.9,88.9 L267.1,89.8 L269.3,90.6 L271.3,91.4 L272.9,92.0 L274.3,92.5 L275.7,93.0 L277.2,93.6 L278.9,94.3 L280.8,95.2 L282.7,96.1 L284.8,97.0 L287.2,97.9 L289.7,98.9 L292.4,100.0 L294.9,101.0 L297.5,102.1 L300.1,103.3 L302.7,104.4 L305.1,105.4 L307.3,106.2 L309.4,107.0 L311.4,107.6 L313.5,108.3 L315.7,109.0 L317.9,109.6 L320.1,110.3 L321.9,110.8 L323.5,111.3 L324.7,111.7 L325.8,112.0 L327.0,112.2 L328.3,112.1 L329.5,111.9 L330.8,111.7 L332.1,111.7 L333.2,111.9 L334.3,112.2 L335.5,112.6 L337.1,112.8 L339.4,113.0 L342.0,113.2 L344.7,113.3 L347.3,113.4 L349.6,113.3 L351.8,113.2 L353.9,113.1 L355.7,113.0 L357.1,113.1 L358.1,113.2 L359.0,113.3 L360.0,113.4 L361.2,113.2 L362.5,112.9 L363.8,112.6 L365.1,112.5 L366.3,112.7 L367.5,113.1 L368.7,113.5 L370.1,113.9 L371.7,114.0 L373.3,114.1 L375.0,114.2 L376.9,114.2 L378.9,114.2 L381.0,114.1 L383.2,114.1 L385.3,114.2 L387.4,114.5 L389.5,114.8 L391.6,115.2 L393.8,115.5 L395.8,115.7 L397.8,115.8 L399.8,115.8 L402.2,115.9 L405.0,116.0 L408.1,116.0 L411.2,116.1 L414.0,116.2 L416.4,116.5 L418.5,116.8 L420.5,117.1 L422.4,117.2 L424.2,117.1 L425.8,116.7 L427.4,116.4 L429.2,116.2 L431.1,116.3 L433.2,116.6 L435.4,117.0 L437.6,117.2 L440.1,117.4 L442.6,117.7 L445.2,117.8 L447.8,117.9 L450.3,117.9 L452.9,117.7 L455.5,117.6 L457.9,117.6 L460.1,117.7 L462.2,117.9 L464.3,118.2 L466.3,118.4 L468.6,118.6 L471.1,118.7 L473.3,118.8 L474.8,118.9" fill="none" stroke="#d4202a" stroke-width="2.3" stroke-linejoin="round"/>
<path d="M6.0,196.9 L6.1,196.8 L6.1,196.7 L6.5,196.6 L7.4,196.4 L8.9,196.0 L10.9,195.5 L13.3,194.9 L16.1,194.2 L19.6,193.3 L23.5,192.3 L27.6,191.1 L31.3,189.9 L34.5,188.7 L37.4,187.3 L40.3,185.9 L43.1,184.5 L46.1,183.1 L49.1,181.6 L52.1,180.1 L54.9,179.0 L57.6,178.2 L60.2,177.7 L62.7,177.3 L65.1,176.8 L67.3,176.1 L69.3,175.4 L71.3,174.6 L73.5,173.9 L75.9,173.2 L78.4,172.5 L80.9,171.8 L83.6,171.0 L86.5,170.3 L89.4,169.6 L92.5,168.9 L95.5,168.0 L98.4,167.0 L101.5,165.8 L104.4,164.7 L107.3,163.8 L110.0,163.3 L112.6,163.0 L115.1,162.8 L117.4,162.6 L119.6,162.4 L121.8,162.3 L123.6,162.3 L125.0,162.3 L125.6,162.3 L125.5,162.5 L125.5,162.6 L126.0,162.6 L127.2,162.3 L128.9,161.9 L130.8,161.5 L132.8,161.3 L134.8,161.2 L137.0,161.2 L139.2,161.4 L141.2,161.6 L143.0,161.9 L144.6,162.4 L146.2,162.8 L147.9,163.3 L150.0,163.8 L152.2,164.3 L154.3,164.8 L156.4,165.0 L158.1,164.7 L159.5,164.2 L161.1,163.6 L163.1,163.3 L165.8,163.3 L168.8,163.5 L172.0,163.7 L174.9,163.8 L177.6,163.6 L180.2,163.3 L182.7,162.9 L185.1,162.6 L187.2,162.4 L189.2,162.2 L191.2,162.1 L193.5,162.1 L196.2,162.2 L199.2,162.5 L202.3,162.7 L205.3,162.9 L208.3,163.0 L211.3,163.1 L214.3,163.2 L217.1,163.3 L219.8,163.5 L222.3,163.7 L224.8,164.0 L227.3,164.3 L229.9,164.7 L232.5,165.1 L235.0,165.6 L237.4,166.0 L239.6,166.3 L241.8,166.6 L243.6,166.8 L245.0,167.0 L245.5,167.0 L245.4,166.9 L245.4,166.9 L246.0,167.2 L247.6,167.8 L249.8,168.6 L252.2,169.6 L254.4,170.5 L256.5,171.4 L258.7,172.2 L260.8,173.1 L262.9,173.9 L265.0,174.8 L267.1,175.7 L269.2,176.5 L271.3,177.3 L273.4,177.9 L275.5,178.5 L277.6,179.1 L279.8,179.8 L281.9,180.8 L284.0,181.9 L286.1,183.0 L288.2,184.0 L290.3,184.9 L292.4,185.8 L294.5,186.6 L296.6,187.4 L298.7,188.3 L300.9,189.1 L303.0,189.9 L305.1,190.8 L307.2,191.7 L309.3,192.5 L311.4,193.4 L313.5,194.2 L315.7,194.9 L317.8,195.6 L320.0,196.2 L321.9,196.7 L323.8,197.1 L325.5,197.3 L327.2,197.5 L328.7,197.5 L330.0,197.5 L331.2,197.3 L332.4,197.1 L333.8,197.0 L335.3,197.3 L336.9,197.6 L338.7,198.0 L340.5,198.4 L342.5,198.7 L344.6,198.9 L346.8,199.1 L349.0,199.2 L351.2,199.2 L353.5,199.0 L355.7,198.9 L357.4,198.7 L358.4,198.6 L358.8,198.5 L359.2,198.4 L360.0,198.4 L361.3,198.4 L362.9,198.6 L364.7,198.7 L366.8,198.9 L369.0,199.1 L371.6,199.3 L374.3,199.6 L376.9,199.7 L379.4,199.8 L381.9,199.9 L384.5,200.0 L387.0,200.1 L389.5,200.2 L391.9,200.5 L394.4,200.7 L397.1,200.9 L400.3,201.1 L403.7,201.3 L407.2,201.5 L410.6,201.8 L414.0,202.0 L417.4,202.2 L420.8,202.4 L424.1,202.6 L427.5,202.8 L430.9,203.0 L434.3,203.2 L437.6,203.4 L441.0,203.7 L444.4,203.9 L447.8,204.1 L451.1,204.3 L454.6,204.4 L458.1,204.6 L461.5,204.7 L464.6,204.8 L467.6,204.9 L470.5,205.0 L473.0,205.1 L474.8,205.1" fill="none" stroke="#0f9a12" stroke-width="2.35" stroke-linejoin="round"/>
<path d="M6.0,166.3 L7.4,164.6 L8.4,162.0 L9.4,160.4 L11.1,157.6 L12.8,155.3 L14.4,157.9 L17.0,161.3 L17.7,159.3 L18.8,155.9 L19.4,154.2 L20.3,152.5 L21.6,155.3 L22.9,156.2 L26.3,157.9 L27.4,156.3 L28.4,153.7 L29.6,151.1 L30.6,154.3 L31.3,157.0 L33.1,159.6 L34.7,162.1 L38.1,164.6 L40.0,163.3 L42.3,161.3 L43.4,159.7 L44.3,156.6 L45.4,155.7 L46.5,152.8 L49.0,149.4 L52.4,150.3 L54.6,149.9 L56.6,148.6 L57.6,146.8 L58.4,143.9 L59.2,141.8 L60.0,140.4 L61.3,137.7 L62.1,136.0 L63.4,132.8 L64.3,129.5 L65.4,127.7 L65.9,130.9 L66.4,132.6 L67.0,134.7 L67.6,137.0 L69.3,135.0 L71.0,133.6 L73.2,132.5 L75.2,131.1 L78.6,131.9 L81.1,135.3 L83.6,138.7 L84.3,136.5 L84.9,134.3 L85.3,131.1 L85.9,129.3 L86.7,127.6 L87.2,125.6 L87.9,122.6 L90.4,120.1 L91.4,118.0 L92.7,115.7 L93.8,112.5 L94.1,109.8 L94.8,108.6 L95.1,104.7 L95.3,103.0 L96.0,100.5 L96.2,99.3 L96.6,96.5 L97.1,93.9 L97.8,92.0 L98.6,90.0 L99.3,86.9 L99.7,84.1 L100.5,82.1 L101.6,79.4 L103.0,76.2 L104.3,77.7 L105.6,80.4 L105.8,83.0 L106.4,84.2 L106.7,87.2 L106.9,90.7 L107.3,92.3 L107.5,94.5 L107.8,97.1 L108.0,99.2 L108.2,102.3 L108.5,103.6 L108.7,105.5 L109.0,108.3 L109.6,111.4 L110.1,112.6 L110.9,114.4 L111.5,116.7 L112.8,113.7 L114.0,112.5 L114.7,110.7 L115.7,108.3 L116.5,111.5 L117.4,114.2 L117.8,112.0 L118.3,109.5 L118.5,105.6 L119.1,104.1 L119.8,102.2 L120.2,99.1 L120.8,97.3 L122.0,95.4 L123.3,93.1 L124.3,95.4 L125.5,98.2 L126.0,99.0 L126.9,100.9 L127.7,103.2 L128.9,99.9 L130.2,97.3 L131.9,100.7 L132.0,103.5 L132.5,105.3 L132.7,107.1 L133.0,110.3 L133.3,111.3 L133.5,114.6 L133.8,116.1 L134.1,119.4 L134.4,120.9 L136.1,121.8 L137.3,125.0 L138.7,126.9 L139.3,124.2 L139.9,123.0 L140.4,119.3 L141.2,117.6 L142.9,114.2 L143.6,112.1 L144.6,110.0 L145.2,108.4 L145.5,105.0 L146.1,104.0 L146.5,101.8 L147.1,99.0 L149.6,100.7 L153.0,101.5 L153.8,98.3 L154.6,97.1 L155.5,93.9 L156.1,95.7 L156.8,98.0 L157.3,101.1 L158.1,102.4 L159.8,103.2 L160.5,104.3 L161.2,108.2 L161.8,109.4 L162.3,111.7 L166.5,110.8 L168.2,114.2 L170.7,112.5 L174.9,111.7 L175.7,114.6 L176.6,115.9 L177.6,118.6 L178.3,120.7 L179.2,122.6 L181.7,124.3 L182.8,121.6 L183.8,119.3 L185.1,117.6 L185.9,119.9 L186.8,121.8 L187.6,120.3 L188.8,117.6 L189.6,120.9 L190.4,123.5 L191.0,125.2 L193.5,121.8 L196.0,123.5 L199.4,123.5 L200.7,121.3 L201.9,117.6 L203.6,120.9 L206.2,118.4 L208.7,117.6 L209.6,113.6 L210.4,111.7 L211.2,108.9 L212.1,107.8 L213.1,105.2 L213.8,103.2 L214.6,100.9 L215.6,97.7 L216.4,95.6 L217.1,93.1 L219.6,92.4 L222.2,92.3 L223.4,94.6 L224.5,96.1 L225.6,99.0 L227.4,102.4 L229.0,104.1 L230.1,106.8 L231.5,108.3 L232.2,106.3 L232.5,102.9 L233.2,101.5 L234.9,102.4 L236.1,99.4 L237.4,97.3 L238.7,99.7 L239.9,102.4 L241.5,104.6 L243.3,105.8 L244.3,107.6 L245.5,111.2 L246.0,112.2 L250.2,112.2 L252.2,109.2 L254.4,107.8 L256.1,111.7 L258.3,111.8 L260.3,110.0 L260.9,111.7 L261.4,114.7 L262.0,117.6 L263.3,120.2 L264.6,123.5 L267.9,125.2 L271.3,122.6 L273.8,120.1 L276.4,122.6 L276.9,125.1 L277.5,126.5 L278.1,129.4 L278.4,131.2 L278.7,134.9 L279.0,136.1 L279.4,139.5 L279.8,141.0 L280.2,143.3 L280.5,146.6 L281.0,149.2 L281.3,151.0 L281.8,153.7 L282.4,151.1 L282.9,148.4 L283.3,146.0 L284.0,143.5 L286.5,144.4 L287.4,147.0 L288.2,149.4 L288.7,151.1 L289.3,154.4 L289.7,157.9 L290.2,159.6 L292.4,156.5 L295.5,157.2 L298.3,156.2 L298.7,158.2 L299.3,160.5 L299.7,164.1 L300.0,166.3 L300.6,169.1 L301.0,171.2 L301.6,172.1 L301.9,174.1 L302.5,177.3 L303.2,180.4 L304.2,182.4 L305.0,179.0 L305.9,177.3 L306.7,175.5 L307.6,172.2 L308.8,169.0 L310.0,167.0 L311.0,165.5 L312.7,168.0 L315.2,167.2 L316.1,164.6 L316.9,161.3 L318.2,159.2 L319.4,155.3 L323.6,155.3 L323.9,158.3 L324.5,160.5 L324.8,162.7 L325.3,164.6 L327.0,166.3 L329.5,163.8 L330.9,166.8 L332.1,168.8 L333.0,170.8 L334.1,174.4 L335.3,171.8 L336.3,168.8 L337.3,165.4 L338.5,162.9 L339.5,165.0 L340.5,168.0 L341.7,170.6 L343.0,172.2 L344.7,171.4 L345.5,173.4 L346.4,175.6 L347.3,178.1 L349.3,179.5 L351.5,182.4 L353.2,180.2 L354.4,182.4 L355.7,186.2 L356.9,185.2 L358.2,182.4 L360.0,180.2 L362.5,178.1 L365.1,176.1 L367.1,179.5 L368.1,178.0 L369.3,175.6 L370.2,173.4 L371.0,170.9 L371.8,168.0 L374.3,166.0 L376.9,165.5 L377.9,162.9 L378.9,160.4 L380.3,157.9 L380.8,160.8 L381.6,161.3 L382.2,165.0 L382.8,166.3 L384.1,168.6 L385.3,171.0 L386.9,168.9 L388.7,168.0 L392.1,170.5 L396.3,171.0 L400.5,172.2 L401.8,174.2 L403.0,177.3 L405.6,177.8 L406.8,175.1 L408.1,173.1 L409.5,170.9 L410.6,168.0 L414.0,166.7 L416.0,164.3 L418.2,168.0 L420.8,168.8 L423.3,171.4 L425.8,169.7 L428.4,172.2 L430.9,173.9 L433.4,176.4 L434.7,178.6 L435.9,181.5 L437.7,183.0 L439.3,184.9 L441.9,186.6 L443.1,184.2 L444.4,181.5 L446.9,180.2 L447.6,182.4 L448.6,185.7 L449.4,188.2 L450.3,190.8 L452.8,189.9 L455.4,186.6 L456.6,188.4 L457.9,191.6 L459.2,188.7 L460.4,186.6 L463.0,183.2 L464.6,186.9 L468.0,187.9 L469.0,184.8 L469.7,183.0 L470.5,180.7 L471.4,178.3 L472.0,176.8 L472.7,173.9 L474.8,171.4" fill="none" stroke="#222" stroke-width="0.95" stroke-linejoin="round"/>
</g>
<rect x="6.85" y="74.85" width="470.3" height="132.3" fill="none" stroke="#1f2e45" stroke-width="1.7"/>
<rect x="381" y="78.3" width="96" height="125" fill="none" stroke="#ff8a33" stroke-width="2.1"/>
<rect x="379.9" y="192" width="12.5" height="12.3" fill="#ff8a33"/>
<rect x="464.5" y="82.2" width="12.5" height="112" fill="none" stroke="#4a86e8" stroke-width="1.8"/>
<rect x="463.6" y="187.8" width="14.2" height="13.2" fill="#4a86e8"/>
<rect x="6" y="196" width="11.4" height="12" fill="#1f2e45"/>
<text x="11.9" y="205.3" font-size="9.4" font-weight="bold" fill="#fff" text-anchor="middle">1</text>
<text x="386.6" y="200.9" font-size="9.9" fill="#fff" text-anchor="middle" stroke="#fff" stroke-width="0.25">2</text>
<text x="470.8" y="197.4" font-size="9.2" fill="#fff" text-anchor="middle">3</text>
<text x="488" y="92.3" font-size="9.7" fill="#222" textLength="19.5" lengthAdjust="spacingAndGlyphs">1800</text>
<text x="488" y="124.8" font-size="9.7" fill="#222" textLength="19.5" lengthAdjust="spacingAndGlyphs">1600</text>
<text x="488" y="157.3" font-size="9.7" fill="#222" textLength="19.5" lengthAdjust="spacingAndGlyphs">1400</text>
<text x="488" y="189.9" font-size="9.7" fill="#222" textLength="19.5" lengthAdjust="spacingAndGlyphs">1200</text>
<text x="22.0" y="226" font-size="9.5" font-weight="bold" fill="#111" textLength="19.6" lengthAdjust="spacingAndGlyphs">2011</text>
<text x="131.3" y="226" font-size="9.5" font-weight="bold" fill="#111" textLength="19.6" lengthAdjust="spacingAndGlyphs">2012</text>
<text x="240.5" y="226" font-size="9.5" font-weight="bold" fill="#111" textLength="19.6" lengthAdjust="spacingAndGlyphs">2013</text>
<text x="349.8" y="226" font-size="9.5" font-weight="bold" fill="#111" textLength="19.6" lengthAdjust="spacingAndGlyphs">2014</text>
<text x="458.7" y="226" font-size="9.5" font-weight="bold" fill="#111" textLength="19.6" lengthAdjust="spacingAndGlyphs">2015</text>
</svg>
<svg width="711" height="552" viewBox="0 0 711 552">
<defs>
<radialGradient id="gr1" cx="0.53" cy="0.5" r="0.5"><stop offset="0" stop-color="#d8202c" stop-opacity="0.95"/><stop offset="0.3" stop-color="#de3a44" stop-opacity="0.85"/><stop offset="0.7" stop-color="#f2a8ad" stop-opacity="0.75"/><stop offset="1" stop-color="#ffffff" stop-opacity="0.7"/></radialGradient>
<radialGradient id="gr2" cx="0.5" cy="0.5" r="0.5"><stop offset="0" stop-color="#1f8f24" stop-opacity="0.95"/><stop offset="0.3" stop-color="#349c3a" stop-opacity="0.9"/><stop offset="0.65" stop-color="#8ccb90" stop-opacity="0.85"/><stop offset="0.9" stop-color="#d9efdb" stop-opacity="0.85"/><stop offset="1" stop-color="#eef8ef" stop-opacity="0.85"/></radialGradient>
<radialGradient id="gr3" cx="0.5" cy="0.5" r="0.5"><stop offset="0" stop-color="#505050" stop-opacity="0.95"/><stop offset="0.22" stop-color="#7c7c7c" stop-opacity="0.85"/><stop offset="0.5" stop-color="#bdbdbd" stop-opacity="0.75"/><stop offset="0.8" stop-color="#e4e4e4" stop-opacity="0.7"/><stop offset="1" stop-color="#f4f4f4" stop-opacity="0.65"/></radialGradient>
</defs>
<rect x="6.5" y="290.5" width="226" height="192" fill="#fff" stroke="#1f2e45" stroke-width="1"/>
<clipPath id="c1"><rect x="10.0" y="300" width="161.0" height="110"/></clipPath><g clip-path="url(#c1)"><path d="M10.1,333.9 L11.6,333.2 L13.6,332.0 L16.0,330.7 L18.2,329.2 L20.4,327.6 L22.5,325.8 L24.8,323.9 L27.0,322.1 L29.3,320.4 L31.7,318.6 L34.1,316.9 L36.3,315.4 L38.3,314.0 L40.2,312.7 L42.1,311.5 L43.9,310.7 L45.7,310.1 L47.4,309.7 L49.0,309.5 L50.6,309.5 L52.1,309.6 L53.3,310.0 L54.7,310.4 L56.2,310.7 L58.0,310.7 L59.9,310.6 L61.9,310.5 L64.1,310.3 L66.5,310.1 L69.1,309.8 L71.7,309.6 L74.3,309.5 L76.8,309.5 L79.4,309.7 L81.9,309.9 L84.4,310.3 L86.8,310.8 L89.2,311.3 L91.5,312.0 L93.7,312.8 L95.7,313.9 L97.5,315.1 L99.3,316.5 L101.3,317.9 L103.3,319.5 L105.3,321.1 L107.4,322.9 L109.7,324.7 L112.3,326.6 L115.1,328.8 L117.8,330.8 L120.0,332.3 L121.6,333.0 L122.8,333.4 L123.8,333.5 L125.1,333.6 L126.5,333.8 L128.0,334.0 L129.7,334.1 L131.5,334.3 L133.5,334.5 L135.6,334.8 L137.9,335.0 L140.3,335.3 L142.7,335.6 L145.2,335.9 L147.8,336.2 L150.4,336.5 L152.9,336.7 L155.4,336.9 L158.0,337.1 L160.5,337.3 L163.3,337.6 L166.2,337.8 L168.8,338.0 L170.6,338.2 L170.6,368.5 L165.6,369.4 L160.5,367.7 L155.4,363.5 L150.4,360.9 L145.3,360.9 L140.3,357.6 L136.9,359.3 L131.5,364.3 L125.1,360.9 L120.0,355.0 L119.0,352.5 L114.8,355.0 L109.7,352.5 L106.3,345.8 L101.3,330.6 L97.0,323.8 L93.7,320.4 L87.8,313.7 L84.4,312.0 L79.3,318.8 L74.3,325.5 L67.5,321.3 L60.8,314.5 L56.2,315.4 L50.6,318.8 L47.3,314.5 L43.9,310.7 L40.5,318.8 L36.3,332.3 L32.1,337.3 L27.0,342.4 L21.9,347.4 L16.9,352.5 L13.5,350.8 L10.1,354.2Z" fill="#ffff8f"/><path d="M10.1,382.8 L13.5,379.9 L16.9,381.1 L21.9,378.6 L27.0,373.5 L32.1,366.8 L36.3,360.0 L40.5,344.1 L44.7,337.3 L48.9,347.4 L55.7,344.9 L60.8,343.2 L67.5,350.0 L74.3,354.2 L79.3,345.8 L84.4,339.0 L89.5,344.1 L93.7,349.1 L97.9,350.8 L101.3,355.9 L104.6,364.3 L107.2,372.8 L108.0,373.5 L111.4,381.9 L114.8,383.6 L119.0,381.9 L120.0,381.9 L123.4,387.0 L128.4,392.1 L131.8,390.4 L136.9,387.0 L140.3,386.2 L145.3,390.4 L150.4,388.7 L153.8,389.5 L157.1,393.8 L162.2,396.9 L165.6,396.3 L170.6,396.8 L170.6,397.5 L168.8,397.4 L166.2,397.2 L163.3,397.0 L160.5,396.8 L158.0,396.6 L155.4,396.3 L152.9,396.1 L150.4,395.8 L147.8,395.5 L145.2,395.2 L142.7,394.9 L140.3,394.6 L137.9,394.3 L135.7,394.0 L133.6,393.7 L131.5,393.4 L129.3,393.1 L127.2,392.7 L125.1,392.4 L123.4,392.1 L122.1,391.9 L121.3,391.7 L120.3,391.5 L119.0,390.9 L117.0,389.8 L114.6,388.4 L112.1,386.9 L109.7,385.3 L107.5,383.7 L105.4,382.0 L103.3,380.2 L101.3,378.6 L99.3,377.0 L97.5,375.4 L95.7,373.9 L93.7,372.7 L91.4,371.6 L89.1,370.7 L86.7,369.9 L84.4,369.3 L82.2,368.9 L80.1,368.6 L78.0,368.5 L75.9,368.4 L73.8,368.4 L71.6,368.5 L69.5,368.6 L67.5,368.8 L65.7,369.1 L64.0,369.4 L62.4,369.7 L60.8,369.8 L59.1,369.4 L57.4,368.7 L55.8,368.0 L54.0,367.6 L52.2,367.5 L50.4,367.6 L48.5,367.9 L46.4,368.4 L44.0,369.4 L41.5,370.7 L38.8,372.1 L36.3,373.5 L33.9,374.9 L31.6,376.3 L29.3,377.8 L27.0,379.4 L24.8,381.2 L22.5,383.3 L20.4,385.2 L18.2,387.0 L16.0,388.6 L13.6,390.0 L11.6,391.2 L10.1,392.1Z" fill="#ffff8f"/><line x1="10.0" x2="171.0" y1="317.9" y2="317.9" stroke="#b8b8b8" stroke-width="0.6" stroke-dasharray="0.7 1.5"/><line x1="10.0" x2="171.0" y1="340.2" y2="340.2" stroke="#b8b8b8" stroke-width="0.6" stroke-dasharray="0.7 1.5"/><line x1="10.0" x2="171.0" y1="362.6" y2="362.6" stroke="#b8b8b8" stroke-width="0.6" stroke-dasharray="0.7 1.5"/><line x1="10.0" x2="171.0" y1="385.3" y2="385.3" stroke="#b8b8b8" stroke-width="0.6" stroke-dasharray="0.7 1.5"/><line x1="27.2" x2="27.2" y1="307.8" y2="398.8" stroke="#56b9f3" stroke-width="0.90" opacity="0.38"/><line x1="36.3" x2="36.3" y1="307.8" y2="398.8" stroke="#56b9f3" stroke-width="0.90" opacity="0.38"/><line x1="46.5" x2="46.5" y1="307.8" y2="398.8" stroke="#56b9f3" stroke-width="0.90" opacity="0.38"/><line x1="64.8" x2="64.8" y1="307.8" y2="398.8" stroke="#56b9f3" stroke-width="0.90" opacity="0.38"/><line x1="73.8" x2="73.8" y1="307.8" y2="398.8" stroke="#56b9f3" stroke-width="0.90" opacity="0.38"/><line x1="84.0" x2="84.0" y1="307.8" y2="398.8" stroke="#56b9f3" stroke-width="0.90" opacity="0.38"/><line x1="102.3" x2="102.3" y1="307.8" y2="398.8" stroke="#56b9f3" stroke-width="0.90" opacity="0.38"/><line x1="111.4" x2="111.4" y1="307.8" y2="398.8" stroke="#56b9f3" stroke-width="0.90" opacity="0.38"/><line x1="121.6" x2="121.6" y1="307.8" y2="398.8" stroke="#56b9f3" stroke-width="0.90" opacity="0.38"/><line x1="139.8" x2="139.8" y1="307.8" y2="398.8" stroke="#56b9f3" stroke-width="0.90" opacity="0.38"/><line x1="148.9" x2="148.9" y1="307.8" y2="398.8" stroke="#56b9f3" stroke-width="0.90" opacity="0.38"/><line x1="159.2" x2="159.2" y1="307.8" y2="398.8" stroke="#56b9f3" stroke-width="0.90" opacity="0.38"/><line x1="18.6" x2="18.6" y1="307.8" y2="398.8" stroke="#d8222a" stroke-width="1.00" opacity="0.75"/><line x1="56.1" x2="56.1" y1="307.8" y2="398.8" stroke="#d8222a" stroke-width="1.00" opacity="0.75"/><line x1="93.7" x2="93.7" y1="307.8" y2="398.8" stroke="#d8222a" stroke-width="1.00" opacity="0.75"/><line x1="131.2" x2="131.2" y1="307.8" y2="398.8" stroke="#d8222a" stroke-width="1.00" opacity="0.75"/><line x1="168.8" x2="168.8" y1="307.8" y2="398.8" stroke="#d8222a" stroke-width="1.00" opacity="0.75"/><path d="M10.1,354.2 L13.5,350.8 L16.9,352.5 L21.9,347.4 L27.0,342.4 L32.1,337.3 L36.3,332.3 L40.5,318.8 L43.9,310.3 L47.3,314.5 L50.6,318.8 L56.2,315.4 L60.8,314.5 L67.5,321.3 L74.3,325.5 L79.3,318.8 L84.4,312.0 L87.8,313.7 L93.7,320.4 L97.0,323.8 L101.3,330.6 L106.3,345.8 L109.7,352.5 L114.8,355.0 L119.0,352.5 L120.0,355.0 L125.1,360.9 L131.5,364.3 L136.9,359.3 L140.3,357.6 L145.3,360.9 L150.4,360.9 L155.4,363.5 L160.5,367.7 L165.6,369.4 L170.6,368.5" fill="none" stroke="#e8555c" stroke-width="0.6" stroke-linejoin="round"/><path d="M10.1,382.8 L13.5,379.9 L16.9,381.1 L21.9,378.6 L27.0,373.5 L32.1,366.8 L36.3,360.0 L40.5,344.1 L44.7,337.3 L48.9,347.4 L55.7,344.9 L60.8,343.2 L67.5,350.0 L74.3,354.2 L79.3,345.8 L84.4,339.0 L89.5,344.1 L93.7,349.1 L97.9,350.8 L101.3,355.9 L104.6,364.3 L107.2,372.8 L108.0,373.5 L111.4,381.9 L114.8,383.6 L119.0,381.9 L120.0,381.9 L123.4,387.0 L128.4,392.1 L131.8,390.4 L136.9,387.0 L140.3,386.2 L145.3,390.4 L150.4,388.7 L153.8,389.5 L157.1,393.8 L162.2,398.0 L165.6,396.3 L170.6,396.8" fill="none" stroke="#4caf50" stroke-width="0.6" stroke-linejoin="round"/><path d="M10.1,333.9 L11.6,333.2 L13.6,332.0 L16.0,330.7 L18.2,329.2 L20.4,327.6 L22.5,325.8 L24.8,323.9 L27.0,322.1 L29.3,320.4 L31.7,318.6 L34.1,316.9 L36.3,315.4 L38.3,314.0 L40.2,312.7 L42.1,311.5 L43.9,310.7 L45.7,310.1 L47.4,309.7 L49.0,309.5 L50.6,309.5 L52.1,309.6 L53.3,310.0 L54.7,310.4 L56.2,310.7 L58.0,310.7 L59.9,310.6 L61.9,310.5 L64.1,310.3 L66.5,310.1 L69.1,309.8 L71.7,309.6 L74.3,309.5 L76.8,309.5 L79.4,309.7 L81.9,309.9 L84.4,310.3 L86.8,310.8 L89.2,311.3 L91.5,312.0 L93.7,312.8 L95.7,313.9 L97.5,315.1 L99.3,316.5 L101.3,317.9 L103.3,319.5 L105.3,321.1 L107.4,322.9 L109.7,324.7 L112.3,326.6 L115.1,328.8 L117.8,330.8 L120.0,332.3 L121.6,333.0 L122.8,333.4 L123.8,333.5 L125.1,333.6 L126.5,333.8 L128.0,334.0 L129.7,334.1 L131.5,334.3 L133.5,334.5 L135.6,334.8 L137.9,335.0 L140.3,335.3 L142.7,335.6 L145.2,335.9 L147.8,336.2 L150.4,336.5 L152.9,336.7 L155.4,336.9 L158.0,337.1 L160.5,337.3 L163.3,337.6 L166.2,337.8 L168.8,338.0 L170.6,338.2" fill="none" stroke="#d8222a" stroke-width="1.25" stroke-linejoin="round"/><path d="M10.1,392.1 L11.6,391.2 L13.6,390.0 L16.0,388.6 L18.2,387.0 L20.4,385.2 L22.5,383.3 L24.8,381.2 L27.0,379.4 L29.3,377.8 L31.6,376.3 L33.9,374.9 L36.3,373.5 L38.8,372.1 L41.5,370.7 L44.0,369.4 L46.4,368.4 L48.5,367.9 L50.4,367.6 L52.2,367.5 L54.0,367.6 L55.8,368.0 L57.4,368.7 L59.1,369.4 L60.8,369.8 L62.4,369.7 L64.0,369.4 L65.7,369.1 L67.5,368.8 L69.5,368.6 L71.6,368.5 L73.8,368.4 L75.9,368.4 L78.0,368.5 L80.1,368.6 L82.2,368.9 L84.4,369.3 L86.7,369.9 L89.1,370.7 L91.4,371.6 L93.7,372.7 L95.7,373.9 L97.5,375.4 L99.3,377.0 L101.3,378.6 L103.3,380.2 L105.4,382.0 L107.5,383.7 L109.7,385.3 L112.1,386.9 L114.6,388.4 L117.0,389.8 L119.0,390.9 L120.3,391.5 L121.3,391.7 L122.1,391.9 L123.4,392.1 L125.1,392.4 L127.2,392.7 L129.3,393.1 L131.5,393.4 L133.6,393.7 L135.7,394.0 L137.9,394.3 L140.3,394.6 L142.7,394.9 L145.2,395.2 L147.8,395.5 L150.4,395.8 L152.9,396.1 L155.4,396.3 L158.0,396.6 L160.5,396.8 L163.3,397.0 L166.2,397.2 L168.8,397.4 L170.6,397.5" fill="none" stroke="#1a9a1a" stroke-width="1.25" stroke-linejoin="round"/><path d="M10.1,367.7 L10.8,366.5 L11.4,365.3 L11.8,363.5 L12.8,365.1 L13.5,366.0 L14.1,363.9 L14.7,363.8 L15.2,361.8 L15.9,363.6 L16.9,364.3 L17.5,362.6 L18.2,360.9 L18.7,362.5 L19.0,363.3 L19.6,365.2 L19.7,367.4 L20.3,368.5 L21.0,367.6 L21.8,365.9 L22.8,364.3 L23.7,361.9 L24.4,360.5 L25.3,359.3 L27.8,358.4 L28.4,357.6 L28.8,355.2 L29.2,354.0 L29.5,352.5 L30.1,350.4 L30.5,349.4 L30.7,348.0 L31.2,345.8 L31.7,347.3 L32.2,348.6 L32.9,350.8 L33.8,348.9 L34.6,347.4 L35.2,348.2 L35.7,350.0 L36.3,351.7 L36.6,350.6 L36.8,348.3 L37.0,347.3 L37.3,346.1 L37.8,344.3 L38.0,342.4 L38.3,340.0 L38.5,338.8 L38.6,336.6 L39.1,335.2 L39.3,333.5 L39.6,332.9 L39.7,330.6 L39.9,328.7 L40.2,327.2 L40.5,325.0 L40.7,324.2 L41.0,321.5 L41.1,319.9 L41.4,318.8 L41.8,317.2 L42.0,315.2 L42.1,313.8 L42.4,311.7 L42.7,309.7 L43.0,308.6 L44.2,311.2 L44.5,313.0 L44.3,313.9 L44.6,316.7 L44.6,317.5 L44.9,319.3 L44.9,320.8 L45.2,321.8 L45.2,323.4 L45.2,326.1 L45.6,327.6 L45.6,328.9 L46.0,330.8 L46.2,331.7 L46.7,333.5 L46.9,335.6 L47.1,333.7 L47.4,333.0 L47.5,331.2 L47.8,328.9 L47.8,327.2 L48.1,325.5 L48.4,323.7 L49.0,322.0 L49.3,320.4 L49.5,322.8 L49.7,323.8 L49.9,324.9 L50.3,327.6 L50.5,328.7 L50.6,330.6 L51.1,329.3 L51.6,327.4 L52.0,325.3 L52.3,323.8 L52.6,325.2 L52.9,327.6 L53.3,328.6 L53.4,330.8 L53.7,332.3 L54.0,333.3 L54.3,335.3 L54.6,337.3 L54.9,339.2 L55.2,340.5 L55.5,342.7 L55.7,344.1 L56.0,342.2 L56.2,341.2 L56.6,339.7 L56.7,337.3 L57.0,335.2 L57.1,334.6 L57.4,332.3 L57.8,330.8 L58.0,329.2 L58.4,327.6 L58.7,325.7 L59.1,323.8 L59.8,325.7 L60.4,327.2 L60.8,325.9 L60.9,323.6 L61.4,322.7 L61.6,321.3 L61.9,322.4 L61.9,324.6 L62.1,325.9 L62.3,326.9 L62.5,328.8 L62.8,330.6 L64.1,332.3 L64.8,333.5 L65.8,335.6 L67.5,334.8 L68.0,336.1 L68.7,337.8 L69.2,339.0 L70.2,340.3 L70.9,342.4 L71.5,339.6 L72.2,338.2 L72.8,340.0 L73.4,342.4 L74.4,340.2 L75.1,339.0 L76.8,340.7 L77.5,338.8 L78.5,337.3 L78.7,335.8 L79.1,334.0 L79.6,332.4 L79.8,331.0 L80.2,328.9 L80.5,327.8 L80.7,325.7 L81.2,324.5 L81.7,323.4 L81.9,321.3 L83.5,320.4 L84.1,322.3 L84.5,324.4 L85.2,325.5 L85.8,326.6 L86.2,329.0 L86.9,330.6 L87.5,329.1 L87.7,327.0 L88.1,325.1 L88.6,323.8 L89.1,326.2 L89.9,327.8 L90.3,328.9 L90.8,330.7 L91.4,332.9 L92.0,333.9 L93.7,332.3 L94.5,333.4 L95.4,334.8 L97.0,333.1 L97.6,335.3 L98.1,335.8 L98.6,337.1 L99.0,339.1 L99.6,340.7 L100.5,342.8 L101.3,344.1 L101.6,345.1 L102.1,347.1 L102.2,349.5 L102.5,350.5 L103.0,352.5 L103.2,354.9 L103.6,356.0 L104.0,357.8 L104.2,359.6 L104.6,360.9 L105.1,359.6 L105.7,357.6 L106.3,355.9 L106.7,357.3 L107.0,359.2 L107.4,361.3 L107.6,362.0 L108.0,364.3 L109.7,362.6 L110.1,364.3 L110.3,366.6 L110.6,367.0 L110.9,369.3 L111.2,371.4 L111.4,372.8 L112.1,371.1 L112.5,369.2 L113.1,367.7 L113.4,369.9 L114.0,370.8 L114.4,372.2 L114.8,374.5 L115.1,373.0 L115.5,370.8 L115.7,370.0 L116.1,367.7 L116.5,366.0 L117.2,364.3 L118.1,362.6 L118.5,363.6 L118.8,366.1 L119.4,366.8 L119.7,369.0 L120.0,370.1 L120.9,371.2 L121.7,373.5 L122.4,372.8 L122.7,371.0 L123.4,369.3 L123.8,371.3 L124.5,372.5 L124.8,374.1 L125.5,375.1 L125.9,376.9 L126.6,378.1 L127.1,380.1 L127.7,382.1 L128.4,383.6 L129.2,381.8 L130.1,381.1 L131.8,382.8 L132.2,380.5 L133.0,379.5 L133.5,377.7 L134.2,376.8 L135.1,374.8 L136.0,373.5 L136.5,372.1 L136.9,371.1 L137.4,368.3 L137.8,366.9 L138.2,365.9 L138.8,367.6 L139.1,369.4 L139.5,370.6 L139.9,372.7 L141.9,371.8 L142.9,372.7 L143.6,374.3 L144.8,375.2 L146.2,376.0 L147.0,374.4 L147.8,373.5 L148.6,372.4 L149.6,371.0 L150.4,369.3 L151.3,370.4 L152.1,372.7 L153.8,374.3 L154.5,375.0 L155.4,376.9 L155.9,378.7 L156.6,380.8 L157.1,381.9 L157.9,383.1 L158.5,384.1 L159.2,386.2 L159.5,383.8 L160.1,383.4 L160.5,381.1 L160.8,382.2 L161.4,384.7 L161.7,386.0 L162.2,387.0 L163.9,385.3 L164.7,386.8 L165.6,387.8 L166.1,385.8 L166.6,384.6 L167.3,382.8 L168.0,383.9 L168.9,385.3 L169.2,384.1 L169.4,382.4 L169.7,380.7 L169.9,378.7 L170.1,376.9 L171.0,374.3" fill="none" stroke="#262626" stroke-width="1" stroke-linejoin="round"/></g>
<path d="M45.5,310 L200,391 L141.5,402 Z" fill="#e05a60" opacity="0.28"/>
<clipPath id="c1l"><rect x="130" y="380" width="40.6" height="40"/></clipPath>
<g clip-path="url(#c1l)"><ellipse cx="173.3" cy="397.3" rx="32.7" ry="10.9" fill="#fff" opacity="0.62"/>
<ellipse cx="173.3" cy="397.3" rx="32.7" ry="10.9" fill="url(#gr1)" opacity="0.3"/>
<path d="M10.1,382.8 L13.5,379.9 L16.9,381.1 L21.9,378.6 L27.0,373.5 L32.1,366.8 L36.3,360.0 L40.5,344.1 L44.7,337.3 L48.9,347.4 L55.7,344.9 L60.8,343.2 L67.5,350.0 L74.3,354.2 L79.3,345.8 L84.4,339.0 L89.5,344.1 L93.7,349.1 L97.9,350.8 L101.3,355.9 L104.6,364.3 L107.2,372.8 L108.0,373.5 L111.4,381.9 L114.8,383.6 L119.0,381.9 L120.0,381.9 L123.4,387.0 L128.4,392.1 L131.8,390.4 L136.9,387.0 L140.3,386.2 L145.3,390.4 L150.4,388.7 L153.8,389.5 L157.1,393.8 L162.2,398.0 L165.6,396.3 L170.6,396.8" fill="none" stroke="#4caf50" stroke-width="0.6"/>
<path d="M10.1,392.1 L11.6,391.2 L13.6,390.0 L16.0,388.6 L18.2,387.0 L20.4,385.2 L22.5,383.3 L24.8,381.2 L27.0,379.4 L29.3,377.8 L31.6,376.3 L33.9,374.9 L36.3,373.5 L38.8,372.1 L41.5,370.7 L44.0,369.4 L46.4,368.4 L48.5,367.9 L50.4,367.6 L52.2,367.5 L54.0,367.6 L55.8,368.0 L57.4,368.7 L59.1,369.4 L60.8,369.8 L62.4,369.7 L64.0,369.4 L65.7,369.1 L67.5,368.8 L69.5,368.6 L71.6,368.5 L73.8,368.4 L75.9,368.4 L78.0,368.5 L80.1,368.6 L82.2,368.9 L84.4,369.3 L86.7,369.9 L89.1,370.7 L91.4,371.6 L93.7,372.7 L95.7,373.9 L97.5,375.4 L99.3,377.0 L101.3,378.6 L103.3,380.2 L105.4,382.0 L107.5,383.7 L109.7,385.3 L112.1,386.9 L114.6,388.4 L117.0,389.8 L119.0,390.9 L120.3,391.5 L121.3,391.7 L122.1,391.9 L123.4,392.1 L125.1,392.4 L127.2,392.7 L129.3,393.1 L131.5,393.4 L133.6,393.7 L135.7,394.0 L137.9,394.3 L140.3,394.6 L142.7,394.9 L145.2,395.2 L147.8,395.5 L150.4,395.8 L152.9,396.1 L155.4,396.3 L158.0,396.6 L160.5,396.8 L163.3,397.0 L166.2,397.2 L168.8,397.4 L170.6,397.5" fill="none" stroke="#1a9a1a" stroke-width="1.25"/></g>
<clipPath id="c1r"><rect x="170.6" y="380" width="60" height="40"/></clipPath>
<ellipse cx="173.3" cy="397.3" rx="32.7" ry="10.9" fill="url(#gr1)" clip-path="url(#c1r)"/>
<ellipse cx="173.3" cy="397.3" rx="32.7" ry="10.9" fill="none" stroke="#eaa0a6" stroke-width="0.45"/>
<line x1="170.7" x2="170.7" y1="386" y2="409.6" stroke="#d8222a" stroke-width="0.9" opacity="0.85"/>
<text x="175.4" y="319.8" font-size="5.4" fill="#222" text-anchor="start" opacity="1">1800</text>
<text x="175.4" y="342.1" font-size="5.4" fill="#222" text-anchor="start" opacity="1">1600</text>
<text x="175.4" y="364.5" font-size="5.4" fill="#222" text-anchor="start" opacity="1">1400</text>
<text x="175.4" y="387.2" font-size="5.4" fill="#222" text-anchor="start" opacity="1">1200</text>
<line x1="171.1" x2="186.7" y1="308.6" y2="308.6" stroke="#444" stroke-width="0.5"/>
<text x="188.9" y="310.6" font-size="5.4" fill="#222" text-anchor="start" opacity="1">1884.2</text>
<line x1="171.1" x2="188.5" y1="389" y2="389" stroke="#666" stroke-width="0.5"/>
<text x="189.5" y="390.5" font-size="5.4" fill="#222" text-anchor="start" opacity="1">1167.13</text>
<text x="228.8" y="383.6" font-size="5.4" fill="#d8363e" text-anchor="end" opacity="1">1192.91</text>
<line x1="205.5" x2="229" y1="386.4" y2="386.4" stroke="#ababab" stroke-width="0.9" stroke-dasharray="4.2 2.6"/>
<text x="228.8" y="399.2" font-size="5.4" font-weight="bold" fill="#d8363e" text-anchor="end" opacity="1">I down</text>
<line x1="205.5" x2="229" y1="409.4" y2="409.4" stroke="#ababab" stroke-width="0.9" stroke-dasharray="4.2 2.6"/>
<text x="228.8" y="416.0" font-size="5.4" fill="#d8363e" text-anchor="end" opacity="1">900.214</text>
<text x="18.6" y="412.2" font-size="5.4" font-weight="bold" fill="#111" text-anchor="middle" opacity="1">2011</text>
<text x="18.6" y="474.0" font-size="5.4" font-weight="bold" fill="#111" text-anchor="middle" opacity="1">2011</text>
<text x="56.1" y="412.2" font-size="5.4" font-weight="bold" fill="#111" text-anchor="middle" opacity="1">2012</text>
<text x="56.1" y="474.0" font-size="5.4" font-weight="bold" fill="#111" text-anchor="middle" opacity="1">2012</text>
<text x="93.7" y="412.2" font-size="5.4" font-weight="bold" fill="#111" text-anchor="middle" opacity="1">2013</text>
<text x="93.7" y="474.0" font-size="5.4" font-weight="bold" fill="#111" text-anchor="middle" opacity="1">2013</text>
<text x="131.2" y="412.2" font-size="5.4" font-weight="bold" fill="#111" text-anchor="middle" opacity="1">2014</text>
<text x="131.2" y="474.0" font-size="5.4" font-weight="bold" fill="#111" text-anchor="middle" opacity="1">2014</text>
<text x="168.8" y="412.2" font-size="5.4" font-weight="bold" fill="#111" text-anchor="middle" opacity="1">2015</text>
<text x="168.8" y="474.0" font-size="5.4" font-weight="bold" fill="#111" text-anchor="middle" opacity="1">2015</text>
<line x1="27.2" x2="27.2" y1="426.0" y2="455.0" stroke="#56b9f3" stroke-width="0.90" opacity="0.38"/><line x1="36.3" x2="36.3" y1="426.0" y2="455.0" stroke="#56b9f3" stroke-width="0.90" opacity="0.38"/><line x1="46.5" x2="46.5" y1="426.0" y2="455.0" stroke="#56b9f3" stroke-width="0.90" opacity="0.38"/><line x1="64.8" x2="64.8" y1="426.0" y2="455.0" stroke="#56b9f3" stroke-width="0.90" opacity="0.38"/><line x1="73.8" x2="73.8" y1="426.0" y2="455.0" stroke="#56b9f3" stroke-width="0.90" opacity="0.38"/><line x1="84.0" x2="84.0" y1="426.0" y2="455.0" stroke="#56b9f3" stroke-width="0.90" opacity="0.38"/><line x1="102.3" x2="102.3" y1="426.0" y2="455.0" stroke="#56b9f3" stroke-width="0.90" opacity="0.38"/><line x1="111.4" x2="111.4" y1="426.0" y2="455.0" stroke="#56b9f3" stroke-width="0.90" opacity="0.38"/><line x1="121.6" x2="121.6" y1="426.0" y2="455.0" stroke="#56b9f3" stroke-width="0.90" opacity="0.38"/><line x1="139.8" x2="139.8" y1="426.0" y2="455.0" stroke="#56b9f3" stroke-width="0.90" opacity="0.38"/><line x1="148.9" x2="148.9" y1="426.0" y2="455.0" stroke="#56b9f3" stroke-width="0.90" opacity="0.38"/><line x1="159.2" x2="159.2" y1="426.0" y2="455.0" stroke="#56b9f3" stroke-width="0.90" opacity="0.38"/><line x1="18.6" x2="18.6" y1="426.0" y2="455.0" stroke="#d8222a" stroke-width="0.90" opacity="0.75"/><line x1="56.1" x2="56.1" y1="426.0" y2="455.0" stroke="#d8222a" stroke-width="0.90" opacity="0.75"/><line x1="93.7" x2="93.7" y1="426.0" y2="455.0" stroke="#d8222a" stroke-width="0.90" opacity="0.75"/><line x1="131.2" x2="131.2" y1="426.0" y2="455.0" stroke="#d8222a" stroke-width="0.90" opacity="0.75"/><line x1="168.8" x2="168.8" y1="426.0" y2="455.0" stroke="#d8222a" stroke-width="0.90" opacity="0.75"/><rect x="9.6" y="419.5" width="162.6" height="6.8" fill="#d42027"/><rect x="9.6" y="454.5" width="162.6" height="6.8" fill="#109618"/><text x="14.2" y="424.1" font-size="6" font-weight="bold" fill="#fff" opacity="0.95">Overbought</text><text x="14.2" y="459.4" font-size="6" font-weight="bold" fill="#fff" opacity="0.95">Oversold</text><path d="M9.5,440.6 L10.5,440.0 L11.9,439.2 L13.5,438.9 L15.1,439.8 L16.8,441.1 L18.6,441.6 L20.2,440.9 L21.8,439.3 L23.6,437.3 L24.7,435.8 L25.8,434.4 L27.1,432.5 L28.2,431.1 L30.4,428.8 L32.2,428.7 L33.8,429.7 L35.4,429.8 L37.1,428.2 L38.7,425.8 L40.5,423.8 L42.7,422.2 L45.1,421.0 L47.3,420.4 L48.9,421.0 L50.4,422.2 L52.3,423.1 L55.0,422.9 L58.1,422.4 L60.8,422.4 L62.7,423.6 L64.3,425.3 L65.8,427.1 L67.5,429.1 L69.2,431.1 L70.9,432.2 L72.5,431.8 L74.1,430.4 L75.9,428.8 L78.1,426.7 L79.3,425.2 L80.5,424.4 L82.7,423.1 L84.5,423.4 L86.1,424.8 L87.8,426.5 L89.5,428.4 L91.1,430.5 L92.8,432.2 L94.5,432.6 L96.2,432.6 L97.9,433.2 L99.6,435.3 L100.3,437.0 L101.3,438.1 L103.0,440.6 L104.6,442.6 L106.3,444.3 L108.0,445.7 L109.7,446.8 L111.4,447.6 L113.1,448.1 L114.7,447.8 L116.3,447.3 L118.1,447.4 L120.3,448.7 L122.7,450.7 L124.9,452.4 L126.7,453.6 L128.3,454.4 L130.0,454.8 L131.6,454.7 L133.3,454.1 L135.0,453.5 L136.7,452.5 L138.4,451.3 L140.1,450.8 L141.8,451.5 L143.5,452.8 L145.1,453.5 L146.8,452.7 L148.5,451.4 L150.2,450.8 L151.9,451.5 L153.6,452.8 L155.3,454.1 L157.0,455.2 L158.6,456.2 L160.3,456.8 L162.1,457.1 L163.8,457.0 L165.4,456.8 L166.7,456.5 L167.8,456.1 L168.8,455.8 L169.8,455.8 L170.8,456.0 L171.5,456.2" fill="none" stroke="#2a2ae6" stroke-width="0.75" stroke-linejoin="round"/>
<rect x="214" y="463.3" width="19.4" height="19.7" fill="#1f2e45"/>
<text x="223.2" y="476.9" font-size="11" font-weight="bold" fill="#fff" text-anchor="middle">1</text>
<rect x="240.5" y="290.5" width="226" height="192" fill="#fff" stroke="#ff8a33" stroke-width="1"/>
<clipPath id="c2"><rect x="243.8" y="300" width="161.3" height="110"/></clipPath><g clip-path="url(#c2)"><path d="M243.8,308.6 L245.1,309.2 L247.1,310.1 L249.4,311.0 L251.9,312.0 L254.7,313.1 L257.8,314.2 L260.9,315.3 L263.7,316.2 L265.9,316.9 L267.7,317.4 L269.4,317.8 L271.3,317.9 L273.2,317.7 L275.0,317.3 L277.1,316.8 L279.7,316.2 L283.2,315.6 L287.3,315.0 L291.4,314.3 L294.9,313.7 L297.7,313.1 L300.1,312.4 L302.2,311.9 L304.2,311.7 L306.0,311.8 L307.6,312.2 L309.2,312.9 L310.9,313.7 L313.0,314.7 L315.1,316.0 L317.3,317.4 L319.4,318.8 L321.2,320.2 L322.9,321.7 L324.7,323.2 L326.6,324.7 L328.9,326.2 L331.4,327.7 L333.9,329.2 L336.3,330.6 L338.4,331.9 L340.5,333.3 L342.6,334.5 L344.7,335.6 L347.2,336.6 L349.8,337.4 L352.2,338.1 L354.0,338.7 L354.7,338.9 L354.7,339.0 L354.5,339.0 L355.0,339.0 L356.2,339.0 L357.7,339.0 L359.6,339.0 L361.8,339.3 L364.4,340.3 L367.6,341.6 L370.7,342.7 L373.6,343.2 L375.9,342.7 L378.0,341.6 L380.0,340.3 L382.0,339.0 L384.1,337.9 L386.2,336.8 L388.3,335.8 L390.4,334.8 L392.6,333.9 L394.8,333.0 L396.9,332.2 L398.9,331.4 L400.7,330.7 L402.5,330.1 L404.1,329.6 L405.1,329.2 L405.6,329.2 L402.3,330.2 L398.9,331.4 L395.5,333.9 L391.3,345.8 L388.8,355.9 L383.7,359.3 L380.3,352.5 L376.9,355.9 L371.9,354.2 L367.7,360.9 L362.6,367.7 L358.4,359.3 L355.0,347.4 L354.0,346.6 L350.6,342.4 L344.7,347.4 L339.6,349.1 L334.6,342.4 L329.5,333.1 L324.5,325.5 L319.4,320.4 L312.6,316.2 L309.3,317.9 L305.9,317.1 L302.5,312.8 L297.4,313.1 L294.4,313.8 L290.7,314.4 L287.3,323.8 L283.9,332.3 L279.7,329.7 L273.8,321.3 L267.1,318.8 L260.3,320.4 L256.9,317.9 L251.9,316.2 L248.2,317.9 L243.8,310.3Z" fill="#ffff8f"/><path d="M243.8,343.2 L246.8,349.1 L251.9,348.3 L256.9,347.1 L262.0,351.7 L265.4,350.0 L270.4,351.7 L273.8,352.5 L278.9,360.9 L283.9,363.5 L287.3,352.5 L290.7,345.8 L294.1,340.4 L299.1,344.1 L302.5,345.8 L307.6,349.1 L314.3,348.3 L317.7,349.1 L322.8,355.9 L327.8,362.6 L332.9,371.1 L335.4,374.1 L336.3,374.3 L341.3,381.1 L346.4,376.0 L350.6,373.5 L354.0,377.7 L355.0,378.6 L358.4,388.7 L361.8,393.8 L365.1,390.4 L368.5,387.0 L371.9,385.3 L375.3,385.0 L378.6,387.0 L382.0,389.5 L385.4,391.4 L388.8,387.0 L392.1,380.3 L395.5,370.1 L398.9,363.4 L402.3,355.0 L405.1,353.4 L405.1,382.8 L404.4,383.2 L403.3,383.7 L402.0,384.3 L400.6,385.0 L399.0,385.7 L397.3,386.4 L395.6,387.1 L393.8,387.8 L392.1,388.5 L390.4,389.0 L388.8,389.6 L387.1,390.4 L385.4,391.4 L383.7,392.5 L382.0,393.6 L380.3,394.6 L378.6,395.4 L376.9,396.1 L375.2,396.6 L373.6,396.8 L372.0,396.5 L370.6,395.9 L369.1,395.2 L367.7,394.6 L366.2,394.3 L364.8,394.1 L363.3,393.9 L361.8,393.8 L360.0,393.5 L358.1,393.2 L356.4,393.0 L355.0,392.7 L354.3,392.7 L354.2,392.7 L354.0,392.7 L353.1,392.4 L351.5,391.8 L349.3,390.9 L347.0,389.9 L344.7,388.7 L342.6,387.2 L340.6,385.5 L338.5,383.6 L336.3,381.9 L333.9,380.4 L331.4,378.9 L328.9,377.4 L326.6,376.0 L324.5,374.6 L322.5,373.2 L320.8,371.9 L319.4,371.0 L318.7,370.5 L318.5,370.4 L318.3,370.3 L317.7,369.9 L316.4,369.1 L314.6,368.0 L312.8,366.9 L310.9,366.0 L309.3,365.3 L307.7,364.7 L306.1,364.3 L304.2,364.3 L302.2,364.9 L300.1,365.8 L297.7,366.9 L294.9,367.7 L291.4,368.2 L287.3,368.6 L283.2,368.9 L279.7,369.4 L277.1,370.2 L275.0,371.1 L273.2,372.0 L271.3,372.4 L269.4,372.3 L267.7,371.8 L265.9,371.1 L263.7,370.2 L260.9,369.1 L257.8,367.8 L254.7,366.4 L251.9,365.2 L249.4,364.1 L247.1,363.2 L245.1,362.4 L243.8,361.8Z" fill="#ffff8f"/><line x1="243.8" x2="405.1" y1="333.9" y2="333.9" stroke="#b9b9b9" stroke-width="0.9"/><line x1="243.8" x2="405.1" y1="371.9" y2="371.9" stroke="#b9b9b9" stroke-width="0.9"/><line x1="243.8" x2="405.1" y1="353.0" y2="353.0" stroke="#b8b8b8" stroke-width="0.6" stroke-dasharray="0.7 1.5"/><line x1="243.8" x2="405.1" y1="390.9" y2="390.9" stroke="#b8b8b8" stroke-width="0.6" stroke-dasharray="0.7 1.5"/><line x1="248.2" x2="248.2" y1="307.8" y2="398.8" stroke="#56b9f3" stroke-width="0.90" opacity="0.38"/><line x1="263.7" x2="263.7" y1="307.8" y2="398.8" stroke="#56b9f3" stroke-width="0.90" opacity="0.38"/><line x1="279.7" x2="279.7" y1="307.8" y2="398.8" stroke="#56b9f3" stroke-width="0.90" opacity="0.38"/><line x1="294.9" x2="294.9" y1="307.8" y2="398.8" stroke="#56b9f3" stroke-width="0.90" opacity="0.38"/><line x1="310.9" x2="310.9" y1="307.8" y2="398.8" stroke="#56b9f3" stroke-width="0.90" opacity="0.38"/><line x1="326.6" x2="326.6" y1="307.8" y2="398.8" stroke="#56b9f3" stroke-width="0.90" opacity="0.38"/><line x1="342.7" x2="342.7" y1="307.8" y2="398.8" stroke="#56b9f3" stroke-width="0.90" opacity="0.38"/><line x1="359.2" x2="359.2" y1="307.8" y2="398.8" stroke="#56b9f3" stroke-width="0.90" opacity="0.38"/><line x1="373.6" x2="373.6" y1="307.8" y2="398.8" stroke="#56b9f3" stroke-width="0.90" opacity="0.38"/><line x1="390.4" x2="390.4" y1="307.8" y2="398.8" stroke="#d8222a" stroke-width="1.20" opacity="0.55"/><path d="M243.8,310.3 L248.2,317.9 L251.9,316.2 L256.9,317.9 L260.3,320.4 L267.1,318.8 L273.8,321.3 L279.7,329.7 L283.9,332.3 L287.3,323.8 L290.7,313.7 L294.4,309.0 L297.4,312.8 L302.5,312.8 L305.9,317.1 L309.3,317.9 L312.6,316.2 L319.4,320.4 L324.5,325.5 L329.5,333.1 L334.6,342.4 L339.6,349.1 L344.7,347.4 L350.6,342.4 L354.0,346.6 L355.0,347.4 L358.4,359.3 L362.6,367.7 L367.7,360.9 L371.9,354.2 L376.9,355.9 L380.3,352.5 L383.7,359.3 L388.8,355.9 L391.3,345.8 L395.5,333.9 L398.9,327.2 L402.3,323.0 L405.6,322.5" fill="none" stroke="#e8555c" stroke-width="0.6" stroke-linejoin="round"/><path d="M243.8,343.2 L246.8,349.1 L251.9,348.3 L256.9,347.1 L262.0,351.7 L265.4,350.0 L270.4,351.7 L273.8,352.5 L278.9,360.9 L283.9,363.5 L287.3,352.5 L290.7,345.8 L294.1,340.4 L299.1,344.1 L302.5,345.8 L307.6,349.1 L314.3,348.3 L317.7,349.1 L322.8,355.9 L327.8,362.6 L332.9,371.1 L335.4,374.1 L336.3,374.3 L341.3,381.1 L346.4,376.0 L350.6,373.5 L354.0,377.7 L355.0,378.6 L358.4,388.7 L361.8,393.8 L365.1,390.4 L368.5,387.0 L371.9,385.3 L375.3,385.0 L378.6,387.0 L382.0,389.5 L385.4,392.9 L388.8,387.0 L392.1,380.3 L395.5,370.1 L398.9,363.4 L402.3,355.0 L405.1,353.4" fill="none" stroke="#4caf50" stroke-width="0.6" stroke-linejoin="round"/><path d="M243.8,308.6 L245.1,309.2 L247.1,310.1 L249.4,311.0 L251.9,312.0 L254.7,313.1 L257.8,314.2 L260.9,315.3 L263.7,316.2 L265.9,316.9 L267.7,317.4 L269.4,317.8 L271.3,317.9 L273.2,317.7 L275.0,317.3 L277.1,316.8 L279.7,316.2 L283.2,315.6 L287.3,315.0 L291.4,314.3 L294.9,313.7 L297.7,313.1 L300.1,312.4 L302.2,311.9 L304.2,311.7 L306.0,311.8 L307.6,312.2 L309.2,312.9 L310.9,313.7 L313.0,314.7 L315.1,316.0 L317.3,317.4 L319.4,318.8 L321.2,320.2 L322.9,321.7 L324.7,323.2 L326.6,324.7 L328.9,326.2 L331.4,327.7 L333.9,329.2 L336.3,330.6 L338.4,331.9 L340.5,333.3 L342.6,334.5 L344.7,335.6 L347.2,336.6 L349.8,337.4 L352.2,338.1 L354.0,338.7 L354.7,338.9 L354.7,339.0 L354.5,339.0 L355.0,339.0 L356.2,339.0 L357.7,339.0 L359.6,339.0 L361.8,339.3 L364.4,340.3 L367.6,341.6 L370.7,342.7 L373.6,343.2 L375.9,342.7 L378.0,341.6 L380.0,340.3 L382.0,339.0 L384.1,337.9 L386.2,336.8 L388.3,335.8 L390.4,334.8 L392.6,333.9 L394.8,333.0 L396.9,332.2 L398.9,331.4 L400.7,330.7 L402.5,330.1 L404.1,329.6 L405.1,329.2" fill="none" stroke="#d8222a" stroke-width="1.25" stroke-linejoin="round"/><path d="M243.8,361.8 L245.1,362.4 L247.1,363.2 L249.4,364.1 L251.9,365.2 L254.7,366.4 L257.8,367.8 L260.9,369.1 L263.7,370.2 L265.9,371.1 L267.7,371.8 L269.4,372.3 L271.3,372.4 L273.2,372.0 L275.0,371.1 L277.1,370.2 L279.7,369.4 L283.2,368.9 L287.3,368.6 L291.4,368.2 L294.9,367.7 L297.7,366.9 L300.1,365.8 L302.2,364.9 L304.2,364.3 L306.1,364.3 L307.7,364.7 L309.3,365.3 L310.9,366.0 L312.8,366.9 L314.6,368.0 L316.4,369.1 L317.7,369.9 L318.3,370.3 L318.5,370.4 L318.7,370.5 L319.4,371.0 L320.8,371.9 L322.5,373.2 L324.5,374.6 L326.6,376.0 L328.9,377.4 L331.4,378.9 L333.9,380.4 L336.3,381.9 L338.5,383.6 L340.6,385.5 L342.6,387.2 L344.7,388.7 L347.0,389.9 L349.3,390.9 L351.5,391.8 L353.1,392.4 L354.0,392.7 L354.2,392.7 L354.3,392.7 L355.0,392.7 L356.4,393.0 L358.1,393.2 L360.0,393.5 L361.8,393.8 L363.3,393.9 L364.8,394.1 L366.2,394.3 L367.7,394.6 L369.1,395.2 L370.6,395.9 L372.0,396.5 L373.6,396.8 L375.2,396.6 L376.9,396.1 L378.6,395.4 L380.3,394.6 L382.0,393.6 L383.7,392.5 L385.4,391.4 L387.1,390.4 L388.8,389.6 L390.4,389.0 L392.1,388.5 L393.8,387.8 L395.6,387.1 L397.3,386.4 L399.0,385.7 L400.6,385.0 L402.0,384.3 L403.3,383.7 L404.4,383.2 L405.1,382.8" fill="none" stroke="#1a9a1a" stroke-width="1.25" stroke-linejoin="round"/><path d="M243.8,329.7 L244.4,331.4 L245.0,333.1 L245.5,334.5 L246.0,335.6 L246.7,336.7 L247.5,339.6 L248.2,340.7 L248.7,339.6 L249.4,337.3 L250.2,335.6 L250.8,334.0 L251.2,331.6 L251.9,330.6 L252.6,328.8 L253.0,328.0 L253.7,326.6 L254.4,324.7 L254.6,326.3 L255.2,327.0 L255.3,328.8 L255.9,331.4 L256.1,332.3 L257.1,333.7 L257.8,335.6 L259.1,337.4 L260.3,339.0 L260.9,336.9 L261.3,335.9 L261.5,334.5 L262.0,332.3 L262.5,333.8 L263.0,335.1 L263.7,337.3 L264.1,335.4 L264.6,333.2 L264.9,332.0 L265.4,330.6 L266.0,332.5 L266.6,333.3 L267.1,335.3 L267.9,336.5 L268.6,335.5 L269.7,333.5 L270.4,331.4 L271.1,332.1 L271.6,334.0 L272.1,335.6 L273.7,335.4 L275.5,336.5 L278.0,337.3 L278.3,338.4 L278.4,339.9 L278.5,342.5 L278.5,343.2 L278.7,345.0 L278.8,345.9 L279.0,348.4 L279.1,348.8 L279.1,350.4 L279.2,352.5 L280.6,355.0 L282.0,353.5 L283.1,351.7 L283.9,350.0 L284.3,348.8 L284.9,347.0 L285.6,345.8 L286.4,343.5 L287.3,342.4 L287.9,341.0 L288.0,338.5 L288.6,338.0 L289.0,335.6 L289.1,333.8 L289.4,332.4 L289.5,330.5 L289.8,328.3 L289.9,327.2 L291.1,325.7 L292.4,325.5 L293.1,324.7 L294.1,323.0 L295.1,325.0 L295.8,326.4 L297.4,324.7 L298.4,323.2 L299.1,320.7 L300.0,319.6 L300.5,320.8 L300.8,322.7 L301.4,325.4 L301.7,326.4 L301.8,328.6 L302.0,329.4 L302.0,331.0 L302.1,332.4 L302.5,333.9 L302.5,335.6 L302.9,334.8 L303.1,332.6 L303.5,330.5 L304.0,330.0 L304.2,328.0 L305.1,329.5 L305.9,331.8 L306.7,333.1 L308.4,331.4 L309.0,333.3 L309.5,334.6 L309.9,336.2 L310.5,338.5 L310.9,339.9 L311.6,337.9 L312.0,336.7 L312.5,334.1 L313.0,332.8 L313.5,331.4 L314.8,330.5 L316.0,329.7 L318.0,329.2 L318.7,331.0 L319.2,332.2 L319.8,334.4 L320.2,335.6 L320.8,337.1 L321.1,339.5 L321.6,341.4 L321.9,342.4 L323.2,340.7 L324.5,339.0 L325.4,340.2 L326.1,343.0 L327.0,344.1 L327.6,345.7 L328.0,347.2 L328.7,348.3 L331.2,349.1 L331.6,351.2 L331.9,352.7 L332.3,354.4 L332.6,356.1 L332.9,357.6 L333.6,358.6 L334.6,360.9 L335.9,362.6 L337.1,364.3 L339.6,363.5 L341.0,364.8 L342.2,366.9 L342.5,368.6 L343.1,369.9 L343.6,370.8 L344.1,372.7 L344.7,374.5 L344.8,372.3 L345.2,371.0 L345.6,369.5 L346.0,367.3 L346.1,365.3 L346.4,364.3 L347.2,362.3 L348.1,360.9 L348.8,358.9 L349.2,357.8 L349.9,356.7 L350.6,355.0 L352.3,353.4 L352.7,354.9 L353.3,356.4 L353.5,358.2 L354.0,359.3 L355.0,359.3 L355.9,361.4 L356.7,362.6 L357.0,364.1 L357.6,366.1 L358.1,368.3 L358.4,369.4 L358.9,371.2 L359.4,373.3 L360.1,374.5 L360.2,375.4 L360.2,377.7 L360.6,379.2 L360.6,380.4 L360.7,381.7 L360.9,383.6 L361.0,386.0 L361.4,387.6 L361.3,388.8 L361.6,391.1 L361.8,392.1 L362.0,390.3 L362.3,389.4 L362.6,386.7 L362.9,384.8 L363.1,383.5 L363.4,381.9 L364.0,384.0 L364.3,384.6 L364.8,386.7 L365.1,388.7 L365.3,387.4 L365.6,385.0 L365.9,384.3 L366.2,382.1 L366.6,380.5 L366.8,378.6 L368.0,377.2 L369.3,375.2 L371.0,373.5 L371.3,375.6 L371.5,376.9 L371.9,378.3 L372.1,380.2 L372.5,382.3 L372.7,383.6 L372.8,381.5 L373.2,380.5 L373.2,379.6 L373.5,376.9 L373.6,375.9 L373.8,374.8 L374.0,373.0 L374.0,371.3 L374.1,370.5 L374.4,368.4 L375.1,366.5 L375.6,364.5 L376.1,363.4 L377.8,360.9 L378.6,362.9 L379.5,364.3 L379.9,365.7 L380.0,368.3 L380.5,369.4 L380.8,371.1 L381.2,372.8 L382.0,374.3 L382.8,375.2 L383.3,376.4 L383.6,379.0 L384.2,379.9 L384.5,381.9 L385.4,380.7 L386.2,378.6 L386.9,376.5 L387.5,376.4 L387.9,374.3 L388.6,375.9 L389.6,376.9 L389.9,375.7 L390.6,373.7 L390.8,372.1 L391.3,370.1 L391.8,368.1 L392.2,366.3 L392.5,364.9 L393.0,363.4 L393.1,365.7 L393.5,367.7 L393.8,365.5 L394.1,363.7 L394.7,362.6 L395.0,361.1 L395.1,359.8 L395.5,357.5 L395.8,356.0 L396.0,354.8 L396.4,352.5 L396.7,350.2 L397.0,348.6 L397.3,347.5 L397.5,345.8 L397.8,343.7 L398.0,342.4 L398.5,340.4 L398.8,339.0 L399.3,336.9 L399.7,335.6 L400.5,334.7 L401.4,333.1 L402.0,334.8 L402.6,335.3 L403.1,337.3 L403.2,338.3 L403.5,340.6 L403.8,342.5 L404.2,343.3 L404.4,344.5 L404.4,346.1 L404.8,348.3" fill="none" stroke="#262626" stroke-width="1" stroke-linejoin="round"/></g>
<path d="M361.8,393 L424.5,304.5 L445.5,320.5 L372,397 Z" fill="#5cb860" opacity="0.3"/>
<ellipse cx="434.4" cy="312.3" rx="14.6" ry="11.2" fill="url(#gr2)"/>
<ellipse cx="434.4" cy="312.3" rx="14.6" ry="11.2" fill="none" stroke="#7cc47f" stroke-width="0.55"/>
<line x1="437.8" x2="433.4" y1="297.6" y2="325.5" stroke="#fff" stroke-width="1.1" opacity="0.92"/>
<line x1="415" x2="410.2" y1="313.2" y2="343" stroke="#fff" stroke-width="0.9" opacity="0.85"/>
<path d="M407.7,301.2 L406.6,301.2 L406.6,323.6 L407.7,323.6" fill="none" stroke="#3aa040" stroke-width="0.8"/>
<line x1="405.6" x2="421" y1="319.3" y2="319.3" stroke="#999" stroke-width="0.6"/>
<text x="423.2" y="320.2" font-size="5.4" fill="#111" text-anchor="start" opacity="1">1338.5</text>
<text x="463.0" y="298.7" font-size="5.4" fill="#2e9a34" text-anchor="end" opacity="1">1384.73</text>
<line x1="449" x2="463" y1="301.6" y2="301.6" stroke="#ababab" stroke-width="0.9" stroke-dasharray="4.2 2.6"/>
<text x="463.0" y="314.2" font-size="5.4" font-weight="bold" fill="#2e9a34" text-anchor="end" opacity="1">I up</text>
<line x1="449" x2="463" y1="323.6" y2="323.6" stroke="#ababab" stroke-width="0.9" stroke-dasharray="4.2 2.6"/>
<text x="463.0" y="330.0" font-size="5.4" fill="#2e9a34" text-anchor="end" opacity="1">1327.51</text>
<text x="409.3" y="335.6" font-size="5.4" font-weight="bold" fill="#111" text-anchor="start" opacity="1">1300</text>
<text x="409.3" y="354.6" font-size="5.4" fill="#222" text-anchor="start" opacity="1">1250</text>
<text x="409.3" y="374.0" font-size="5.4" font-weight="bold" fill="#111" text-anchor="start" opacity="1">1200</text>
<text x="409.3" y="392.6" font-size="5.4" fill="#222" text-anchor="start" opacity="1">1150</text>
<line x1="405.6" x2="421" y1="394.3" y2="394.3" stroke="#666" stroke-width="0.5"/>
<text x="423.0" y="395.8" font-size="5.4" fill="#222" text-anchor="start" opacity="1">1141.57</text>
<text x="264.5" y="405.4" font-size="5.4" fill="#222" text-anchor="middle" opacity="1">May</text>
<text x="264.5" y="466.8" font-size="5.4" fill="#222" text-anchor="middle" opacity="1">May</text>
<text x="294.9" y="405.4" font-size="5.4" fill="#222" text-anchor="middle" opacity="1">Jul</text>
<text x="294.9" y="466.8" font-size="5.4" fill="#222" text-anchor="middle" opacity="1">Jul</text>
<text x="327.0" y="405.4" font-size="5.4" fill="#222" text-anchor="middle" opacity="1">Sep</text>
<text x="327.0" y="466.8" font-size="5.4" fill="#222" text-anchor="middle" opacity="1">Sep</text>
<text x="359.2" y="405.4" font-size="5.4" fill="#222" text-anchor="middle" opacity="1">Nov</text>
<text x="359.2" y="466.8" font-size="5.4" fill="#222" text-anchor="middle" opacity="1">Nov</text>
<text x="390.4" y="405.4" font-size="5.4" fill="#222" text-anchor="middle" opacity="1">Jan</text>
<text x="390.4" y="466.8" font-size="5.4" fill="#222" text-anchor="middle" opacity="1">Jan</text>
<text x="390.4" y="412.2" font-size="5.4" font-weight="bold" fill="#111" text-anchor="middle" opacity="1">2015</text>
<text x="390.4" y="473.5" font-size="5.4" font-weight="bold" fill="#111" text-anchor="middle" opacity="1">2015</text>
<line x1="248.2" x2="248.2" y1="426.0" y2="455.0" stroke="#56b9f3" stroke-width="0.90" opacity="0.38"/><line x1="263.7" x2="263.7" y1="426.0" y2="455.0" stroke="#56b9f3" stroke-width="0.90" opacity="0.38"/><line x1="279.7" x2="279.7" y1="426.0" y2="455.0" stroke="#56b9f3" stroke-width="0.90" opacity="0.38"/><line x1="294.9" x2="294.9" y1="426.0" y2="455.0" stroke="#56b9f3" stroke-width="0.90" opacity="0.38"/><line x1="310.9" x2="310.9" y1="426.0" y2="455.0" stroke="#56b9f3" stroke-width="0.90" opacity="0.38"/><line x1="326.6" x2="326.6" y1="426.0" y2="455.0" stroke="#56b9f3" stroke-width="0.90" opacity="0.38"/><line x1="342.7" x2="342.7" y1="426.0" y2="455.0" stroke="#56b9f3" stroke-width="0.90" opacity="0.38"/><line x1="359.2" x2="359.2" y1="426.0" y2="455.0" stroke="#56b9f3" stroke-width="0.90" opacity="0.38"/><line x1="373.6" x2="373.6" y1="426.0" y2="455.0" stroke="#56b9f3" stroke-width="0.90" opacity="0.38"/><line x1="390.4" x2="390.4" y1="426.0" y2="455.0" stroke="#d8222a" stroke-width="1.20" opacity="0.55"/><rect x="243.4" y="419.5" width="162.9" height="6.8" fill="#d42027"/><rect x="243.4" y="454.5" width="162.9" height="6.8" fill="#109618"/><text x="248.0" y="424.1" font-size="6" font-weight="bold" fill="#fff" opacity="0.95">Overbought</text><text x="248.0" y="459.4" font-size="6" font-weight="bold" fill="#fff" opacity="0.95">Oversold</text><path d="M243.8,423.8 L245.0,424.3 L246.7,425.1 L248.5,425.4 L250.2,425.0 L251.9,424.1 L253.6,423.8 L255.3,424.4 L256.9,425.5 L258.6,426.5 L260.3,427.2 L262.0,427.8 L263.7,427.8 L265.4,426.8 L267.1,425.3 L268.8,424.4 L270.4,424.6 L272.1,425.4 L273.8,426.5 L275.5,427.7 L277.2,429.2 L278.9,430.5 L280.6,431.9 L282.3,433.1 L283.9,433.2 L285.7,431.3 L286.5,429.7 L287.4,428.2 L289.0,425.4 L290.4,423.5 L291.7,422.0 L293.1,421.1 L294.5,421.1 L295.9,421.7 L297.4,422.4 L299.1,422.9 L300.8,423.4 L302.5,423.8 L304.1,423.9 L305.8,424.0 L307.6,424.4 L309.8,425.3 L312.1,426.5 L314.3,427.8 L316.1,429.1 L317.8,430.5 L319.4,432.2 L321.1,434.4 L322.8,436.9 L324.5,438.9 L326.1,440.3 L327.8,441.2 L329.5,442.3 L331.2,443.8 L332.9,445.4 L334.6,446.7 L336.2,447.5 L337.8,448.0 L339.6,448.1 L341.8,447.5 L344.1,446.6 L346.4,445.7 L348.8,444.6 L351.1,443.5 L353.1,443.3 L354.5,444.7 L355.5,446.9 L356.5,449.1 L357.8,451.1 L359.2,453.0 L360.6,454.1 L362.0,454.1 L363.4,453.4 L365.0,452.4 L366.6,451.4 L368.4,450.1 L370.0,449.1 L371.4,448.4 L372.7,448.0 L374.1,448.1 L375.5,448.6 L376.9,449.5 L378.5,450.8 L380.2,452.4 L381.9,454.3 L383.5,455.8 L384.8,456.6 L385.8,456.9 L386.9,456.8 L388.0,456.3 L389.0,455.4 L390.3,454.1 L391.8,452.3 L393.6,450.2 L395.3,448.1 L397.1,446.0 L398.8,444.0 L400.4,442.3 L402.0,441.2 L403.4,440.4 L404.5,440.0" fill="none" stroke="#2a2ae6" stroke-width="0.75" stroke-linejoin="round"/>
<rect x="448" y="463.3" width="19.4" height="19.7" fill="#ff8a33"/>
<text x="457.2" y="476.9" font-size="11" font-weight="bold" fill="#fff" text-anchor="middle">2</text>
<rect x="475.5" y="290.5" width="226" height="192" fill="#fff" stroke="#4a86e8" stroke-width="1"/>
<clipPath id="c3"><rect x="478.8" y="300" width="161.3" height="110"/></clipPath><g clip-path="url(#c3)"><path d="M478.8,353.4 L480.9,353.5 L483.9,353.7 L487.3,353.9 L490.3,353.9 L492.5,353.5 L494.5,352.9 L496.7,352.2 L499.5,351.7 L503.5,351.2 L508.3,350.9 L513.1,350.5 L517.3,350.0 L520.5,349.3 L523.1,348.6 L525.7,347.7 L528.6,346.6 L531.9,345.2 L535.3,343.6 L538.9,342.1 L542.6,340.7 L546.3,339.8 L550.0,339.1 L553.8,338.4 L557.4,337.3 L561.0,335.7 L564.6,333.7 L568.1,331.7 L571.3,329.7 L574.1,328.0 L576.7,326.2 L579.1,324.6 L581.4,323.0 L583.6,321.3 L585.8,319.7 L587.6,318.2 L589.0,317.1 L589.6,316.6 L589.5,316.5 L589.5,316.5 L590.0,316.2 L591.2,315.5 L592.9,314.6 L594.8,313.7 L596.8,312.8 L598.8,312.2 L601.0,311.6 L603.2,311.1 L605.2,310.7 L606.9,310.3 L608.4,310.1 L609.8,310.0 L611.1,310.0 L612.2,310.0 L613.0,310.2 L614.0,310.4 L615.3,310.7 L617.2,311.1 L619.4,311.6 L621.7,312.1 L623.8,312.3 L625.6,312.3 L627.3,312.0 L629.0,311.8 L630.5,311.7 L631.9,311.8 L633.2,312.1 L634.4,312.5 L635.6,312.8 L636.9,313.3 L638.2,313.8 L639.3,314.2 L640.1,314.5 L640.1,327.2 L637.3,324.7 L632.2,318.8 L628.8,314.5 L623.8,314.5 L620.4,316.2 L615.3,312.0 L611.1,310.0 L606.9,310.3 L600.1,311.8 L593.4,315.4 L590.0,318.8 L589.0,319.6 L586.5,323.0 L581.4,325.5 L576.3,339.0 L571.3,347.4 L564.5,348.3 L557.4,352.5 L549.3,359.3 L542.6,358.4 L537.5,360.4 L534.1,361.7 L528.6,368.4 L522.3,375.2 L517.3,374.3 L510.5,369.3 L503.8,373.2 L499.5,371.5 L495.3,372.7 L486.9,379.4 L478.8,379.9Z" fill="#ffff8f"/><path d="M478.8,396.3 L486.9,397.3 L491.9,396.3 L497.0,390.4 L503.8,391.2 L510.5,388.4 L515.6,391.2 L520.6,392.4 L525.7,391.2 L528.6,389.5 L537.5,380.3 L542.6,376.9 L549.3,378.6 L557.4,370.1 L562.0,366.8 L567.9,365.9 L572.1,367.6 L575.5,361.7 L577.2,358.4 L581.4,344.1 L586.5,341.5 L589.0,339.9 L590.0,339.0 L595.1,333.1 L600.1,329.7 L606.9,330.2 L611.1,328.0 L615.3,333.1 L620.4,334.8 L625.4,333.1 L629.7,333.9 L633.9,340.7 L637.3,344.9 L640.1,347.4 L640.1,357.2 L639.3,356.9 L638.2,356.5 L636.9,356.0 L635.6,355.5 L634.4,355.1 L633.2,354.7 L631.9,354.4 L630.5,354.2 L629.0,354.2 L627.3,354.4 L625.6,354.5 L623.8,354.5 L621.7,354.3 L619.4,354.0 L617.2,353.6 L615.3,353.4 L614.0,353.2 L613.0,353.0 L612.2,352.9 L611.1,352.8 L609.8,352.9 L608.4,352.9 L606.9,353.1 L605.2,353.4 L603.2,353.8 L601.0,354.4 L598.8,355.1 L596.8,355.9 L594.9,356.7 L593.2,357.5 L591.5,358.3 L590.0,359.3 L588.7,360.2 L587.5,361.2 L586.3,362.2 L584.8,363.4 L582.9,364.7 L580.9,366.2 L578.6,367.7 L576.3,369.3 L573.9,371.0 L571.3,372.7 L568.7,374.4 L566.2,376.0 L564.1,377.4 L562.1,378.7 L560.0,379.9 L557.4,381.1 L554.1,382.2 L550.3,383.2 L546.4,384.2 L542.6,385.3 L538.9,386.7 L535.3,388.1 L531.9,389.6 L528.6,390.7 L525.7,391.5 L523.1,392.0 L520.5,392.4 L517.3,392.9 L513.1,393.5 L508.3,394.2 L503.5,394.8 L499.5,395.4 L496.7,396.1 L494.5,396.7 L492.5,397.2 L490.3,397.5 L487.3,397.4 L483.9,397.0 L480.9,396.6 L478.8,396.3Z" fill="#ffff8f"/><line x1="478.8" x2="640.1" y1="316.6" y2="316.6" stroke="#b9b9b9" stroke-width="0.9"/><line x1="478.8" x2="640.1" y1="375.5" y2="375.5" stroke="#b9b9b9" stroke-width="0.9"/><line x1="478.8" x2="640.1" y1="345.4" y2="345.4" stroke="#b8b8b8" stroke-width="0.6" stroke-dasharray="0.7 1.5"/><line x1="499.5" x2="499.5" y1="307.8" y2="398.8" stroke="#56b9f3" stroke-width="0.90" opacity="0.38"/><line x1="528.6" x2="528.6" y1="307.8" y2="398.8" stroke="#56b9f3" stroke-width="0.90" opacity="0.38"/><line x1="557.4" x2="557.4" y1="307.8" y2="398.8" stroke="#56b9f3" stroke-width="0.90" opacity="0.38"/><line x1="586.5" x2="586.5" y1="307.8" y2="398.8" stroke="#56b9f3" stroke-width="0.90" opacity="0.38"/><line x1="615.3" x2="615.3" y1="307.8" y2="398.8" stroke="#56b9f3" stroke-width="0.90" opacity="0.38"/><line x1="517.3" x2="517.3" y1="307.8" y2="398.8" stroke="#d8222a" stroke-width="1.90" opacity="0.36"/><path d="M478.8,379.9 L486.9,379.4 L495.3,372.7 L499.5,371.5 L503.8,373.2 L510.5,369.3 L517.3,374.3 L522.3,375.2 L528.6,368.4 L534.1,361.7 L537.5,360.4 L542.6,358.4 L549.3,359.3 L557.4,352.5 L564.5,348.3 L571.3,347.4 L576.3,339.0 L581.4,325.5 L586.5,323.0 L589.0,319.6 L590.0,318.8 L593.4,315.4 L600.1,311.2 L606.9,310.3 L611.1,308.6 L615.3,312.0 L620.4,316.2 L623.8,314.5 L628.8,314.5 L632.2,318.8 L637.3,324.7 L640.1,327.2" fill="none" stroke="#e8555c" stroke-width="0.6" stroke-linejoin="round"/><path d="M478.8,398.0 L486.9,398.0 L491.9,396.3 L497.0,390.4 L503.8,391.2 L510.5,388.4 L515.6,391.2 L520.6,393.8 L525.7,391.2 L528.6,389.5 L537.5,380.3 L542.6,376.9 L549.3,378.6 L557.4,370.1 L562.0,366.8 L567.9,365.9 L572.1,367.6 L575.5,361.7 L577.2,358.4 L581.4,344.1 L586.5,341.5 L589.0,339.9 L590.0,339.0 L595.1,333.1 L600.1,329.7 L606.9,330.2 L611.1,328.0 L615.3,333.1 L620.4,334.8 L625.4,333.1 L629.7,333.9 L633.9,340.7 L637.3,344.9 L640.1,347.4" fill="none" stroke="#4caf50" stroke-width="0.6" stroke-linejoin="round"/><path d="M478.8,353.4 L480.9,353.5 L483.9,353.7 L487.3,353.9 L490.3,353.9 L492.5,353.5 L494.5,352.9 L496.7,352.2 L499.5,351.7 L503.5,351.2 L508.3,350.9 L513.1,350.5 L517.3,350.0 L520.5,349.3 L523.1,348.6 L525.7,347.7 L528.6,346.6 L531.9,345.2 L535.3,343.6 L538.9,342.1 L542.6,340.7 L546.3,339.8 L550.0,339.1 L553.8,338.4 L557.4,337.3 L561.0,335.7 L564.6,333.7 L568.1,331.7 L571.3,329.7 L574.1,328.0 L576.7,326.2 L579.1,324.6 L581.4,323.0 L583.6,321.3 L585.8,319.7 L587.6,318.2 L589.0,317.1 L589.6,316.6 L589.5,316.5 L589.5,316.5 L590.0,316.2 L591.2,315.5 L592.9,314.6 L594.8,313.7 L596.8,312.8 L598.8,312.2 L601.0,311.6 L603.2,311.1 L605.2,310.7 L606.9,310.3 L608.4,310.1 L609.8,310.0 L611.1,310.0 L612.2,310.0 L613.0,310.2 L614.0,310.4 L615.3,310.7 L617.2,311.1 L619.4,311.6 L621.7,312.1 L623.8,312.3 L625.6,312.3 L627.3,312.0 L629.0,311.8 L630.5,311.7 L631.9,311.8 L633.2,312.1 L634.4,312.5 L635.6,312.8 L636.9,313.3 L638.2,313.8 L639.3,314.2 L640.1,314.5" fill="none" stroke="#d8222a" stroke-width="1.25" stroke-linejoin="round"/><path d="M478.8,396.3 L480.9,396.6 L483.9,397.0 L487.3,397.4 L490.3,397.5 L492.5,397.2 L494.5,396.7 L496.7,396.1 L499.5,395.4 L503.5,394.8 L508.3,394.2 L513.1,393.5 L517.3,392.9 L520.5,392.4 L523.1,392.0 L525.7,391.5 L528.6,390.7 L531.9,389.6 L535.3,388.1 L538.9,386.7 L542.6,385.3 L546.4,384.2 L550.3,383.2 L554.1,382.2 L557.4,381.1 L560.0,379.9 L562.1,378.7 L564.1,377.4 L566.2,376.0 L568.7,374.4 L571.3,372.7 L573.9,371.0 L576.3,369.3 L578.6,367.7 L580.9,366.2 L582.9,364.7 L584.8,363.4 L586.3,362.2 L587.5,361.2 L588.7,360.2 L590.0,359.3 L591.5,358.3 L593.2,357.5 L594.9,356.7 L596.8,355.9 L598.8,355.1 L601.0,354.4 L603.2,353.8 L605.2,353.4 L606.9,353.1 L608.4,352.9 L609.8,352.9 L611.1,352.8 L612.2,352.9 L613.0,353.0 L614.0,353.2 L615.3,353.4 L617.2,353.6 L619.4,354.0 L621.7,354.3 L623.8,354.5 L625.6,354.5 L627.3,354.4 L629.0,354.2 L630.5,354.2 L631.9,354.4 L633.2,354.7 L634.4,355.1 L635.6,355.5 L636.9,356.0 L638.2,356.5 L639.3,356.9 L640.1,357.2" fill="none" stroke="#1a9a1a" stroke-width="1.25" stroke-linejoin="round"/><path d="M478.8,387.8 L480.4,388.9 L481.8,389.5 L483.2,389.1 L484.3,387.8 L485.7,389.4 L486.9,390.4 L488.6,390.1 L490.3,391.2 L492.0,391.4 L493.6,390.4 L494.1,389.3 L494.7,387.0 L495.3,385.3 L495.8,383.7 L496.1,381.3 L496.7,379.9 L497.0,378.6 L499.0,378.5 L501.2,377.7 L502.0,379.4 L502.9,380.3 L503.2,381.9 L503.9,382.5 L504.1,384.3 L504.6,386.2 L506.3,385.3 L506.7,384.3 L507.1,381.6 L507.4,380.3 L507.8,378.2 L508.0,376.9 L508.7,375.0 L509.2,372.7 L510.2,374.5 L511.4,375.2 L513.9,374.3 L514.2,375.6 L514.6,376.8 L515.2,378.5 L515.6,380.3 L516.2,381.0 L516.6,382.8 L517.3,384.5 L518.9,385.2 L520.6,385.0 L522.7,384.5 L524.9,384.5 L525.0,386.4 L525.3,388.5 L525.7,389.5 L526.0,388.4 L526.1,385.8 L526.2,384.8 L526.2,382.8 L526.5,381.9 L528.2,382.8 L528.9,380.7 L529.4,379.0 L529.9,377.7 L531.6,378.6 L532.2,377.7 L532.4,375.4 L533.0,374.2 L533.3,372.7 L534.2,370.7 L535.1,370.3 L535.8,368.4 L536.8,366.4 L537.5,365.1 L538.4,364.2 L539.7,365.6 L540.9,366.8 L542.7,366.9 L544.3,367.6 L545.3,368.8 L546.4,369.6 L547.6,371.0 L548.8,369.5 L550.2,369.3 L551.6,368.7 L552.7,367.6 L554.3,365.9 L556.1,365.1 L556.6,364.3 L557.1,362.1 L557.8,360.8 L558.6,359.3 L559.5,357.7 L560.3,355.9 L562.0,357.6 L563.2,355.8 L564.5,354.2 L567.0,353.4 L568.0,354.1 L568.7,355.5 L569.6,357.6 L570.3,356.6 L571.4,355.1 L572.1,353.4 L573.0,354.8 L573.8,355.9 L575.0,356.2 L576.3,357.6 L576.6,355.5 L576.6,354.2 L576.9,353.7 L576.9,352.1 L577.2,349.9 L577.2,348.3 L577.3,346.7 L577.7,345.1 L577.7,344.4 L577.8,342.2 L578.0,340.7 L579.7,339.0 L580.9,339.3 L582.2,340.7 L582.6,339.4 L582.9,337.1 L583.1,336.0 L583.4,334.2 L583.7,332.1 L583.9,330.6 L585.6,328.9 L586.9,329.4 L588.1,330.6 L590.0,330.2 L592.5,329.7 L592.9,328.4 L593.3,326.1 L593.6,324.9 L593.9,322.3 L594.2,321.3 L595.1,319.7 L595.9,318.8 L597.3,319.5 L598.4,320.4 L599.1,319.2 L599.6,317.4 L600.1,316.2 L601.8,317.9 L602.8,319.9 L603.6,321.1 L604.3,323.0 L606.0,324.7 L606.4,323.5 L606.7,322.0 L606.9,319.6 L607.3,317.4 L607.4,316.8 L607.7,314.5 L609.4,316.2 L610.3,317.8 L611.1,318.8 L612.8,320.4 L614.0,319.5 L615.3,317.9 L615.9,319.7 L616.4,321.0 L617.0,322.1 L617.9,324.0 L618.8,325.7 L619.5,327.2 L622.1,328.0 L622.5,325.7 L623.2,324.6 L623.8,323.0 L624.7,321.3 L625.4,320.4 L626.6,321.5 L628.0,322.1 L629.2,323.8 L630.5,325.5 L631.7,326.1 L633.0,328.0 L633.5,329.2 L634.0,330.4 L634.7,332.3 L635.0,333.7 L635.4,335.5 L635.9,336.4 L636.0,337.6 L636.4,339.9 L638.1,340.7 L639.8,339.0" fill="none" stroke="#262626" stroke-width="1" stroke-linejoin="round"/></g>
<line x1="478.8" x2="640" y1="341.2" y2="341.2" stroke="#3a3ab8" stroke-width="0.55" stroke-dasharray="0.7 1.5"/>
<text x="480.4" y="338.1" font-size="6.0" fill="#3030b4" text-anchor="start" opacity="1">Last Close</text>
<text x="480.4" y="349.2" font-size="5.6" font-weight="bold" fill="#3030b4" text-anchor="start" opacity="1">1258</text>
<path d="M613.2,315.2 L651.5,337 L637,348.2 Z" fill="#8a8a8a" opacity="0.3"/>
<ellipse cx="643.2" cy="342.1" rx="11.7" ry="6.8" fill="url(#gr3)"/>
<ellipse cx="643.2" cy="342.1" rx="11.7" ry="6.8" fill="none" stroke="#cfcfcf" stroke-width="0.4"/>
<line x1="640.3" x2="640.3" y1="335.6" y2="348.6" stroke="#999" stroke-width="0.5" opacity="0.7"/>
<line x1="640.6" x2="655.8" y1="316.1" y2="316.1" stroke="#aaa" stroke-width="0.7"/>
<text x="658.0" y="314.7" font-size="5.4" fill="#222" text-anchor="start" opacity="1">1304.9</text>
<text x="644.3" y="318.1" font-size="5.4" font-weight="bold" fill="#111" text-anchor="start" opacity="1">1300</text>
<text x="644.3" y="347.2" font-size="5.4" fill="#222" text-anchor="start" opacity="1">1250</text>
<text x="644.3" y="377.9" font-size="5.4" font-weight="bold" fill="#111" text-anchor="start" opacity="1">1200</text>
<line x1="640.6" x2="655.8" y1="391.6" y2="391.6" stroke="#999" stroke-width="0.7"/>
<text x="658.0" y="393.5" font-size="5.4" fill="#222" text-anchor="start" opacity="1">1172.65</text>
<line x1="655" x2="698" y1="335.3" y2="335.3" stroke="#ababab" stroke-width="0.9" stroke-dasharray="4.2 2.6"/>
<line x1="655" x2="698" y1="348.6" y2="348.6" stroke="#ababab" stroke-width="0.9" stroke-dasharray="4.2 2.6"/>
<text x="698.0" y="332.8" font-size="5.4" fill="#8a8a8a" text-anchor="end" opacity="1">1267.85</text>
<text x="698.0" y="343.8" font-size="5.4" font-weight="bold" fill="#8a8a8a" text-anchor="end" opacity="1">C down</text>
<text x="698.0" y="355.8" font-size="5.4" fill="#8a8a8a" text-anchor="end" opacity="1">1245.63</text>
<text x="499.5" y="405.4" font-size="5.4" fill="#222" text-anchor="middle" opacity="1">29</text>
<text x="499.5" y="466.8" font-size="5.4" fill="#222" text-anchor="middle" opacity="1">29</text>
<text x="517.3" y="405.4" font-size="5.4" fill="#222" text-anchor="middle" opacity="1">01</text>
<text x="517.3" y="466.8" font-size="5.4" fill="#222" text-anchor="middle" opacity="1">01</text>
<text x="528.6" y="405.4" font-size="5.4" fill="#222" text-anchor="middle" opacity="1">05</text>
<text x="528.6" y="466.8" font-size="5.4" fill="#222" text-anchor="middle" opacity="1">05</text>
<text x="557.4" y="405.4" font-size="5.4" fill="#222" text-anchor="middle" opacity="1">12</text>
<text x="557.4" y="466.8" font-size="5.4" fill="#222" text-anchor="middle" opacity="1">12</text>
<text x="586.5" y="405.4" font-size="5.4" fill="#222" text-anchor="middle" opacity="1">19</text>
<text x="586.5" y="466.8" font-size="5.4" fill="#222" text-anchor="middle" opacity="1">19</text>
<text x="615.3" y="405.4" font-size="5.4" fill="#222" text-anchor="middle" opacity="1">26</text>
<text x="615.3" y="466.8" font-size="5.4" fill="#222" text-anchor="middle" opacity="1">26</text>
<text x="517.3" y="412.2" font-size="5.4" font-weight="bold" fill="#111" text-anchor="middle" opacity="1">Jan</text>
<text x="517.3" y="473.5" font-size="5.4" font-weight="bold" fill="#111" text-anchor="middle" opacity="1">Jan</text>
<line x1="499.5" x2="499.5" y1="426.0" y2="455.0" stroke="#56b9f3" stroke-width="0.90" opacity="0.38"/><line x1="528.6" x2="528.6" y1="426.0" y2="455.0" stroke="#56b9f3" stroke-width="0.90" opacity="0.38"/><line x1="557.4" x2="557.4" y1="426.0" y2="455.0" stroke="#56b9f3" stroke-width="0.90" opacity="0.38"/><line x1="586.5" x2="586.5" y1="426.0" y2="455.0" stroke="#56b9f3" stroke-width="0.90" opacity="0.38"/><line x1="615.3" x2="615.3" y1="426.0" y2="455.0" stroke="#56b9f3" stroke-width="0.90" opacity="0.38"/><line x1="517.3" x2="517.3" y1="426.0" y2="455.0" stroke="#d8222a" stroke-width="1.90" opacity="0.36"/><rect x="478.4" y="419.5" width="162.9" height="6.8" fill="#d42027"/><rect x="478.4" y="454.5" width="162.9" height="6.8" fill="#109618"/><text x="483.0" y="424.1" font-size="6" font-weight="bold" fill="#fff" opacity="0.95">Overbought</text><text x="483.0" y="459.4" font-size="6" font-weight="bold" fill="#fff" opacity="0.95">Oversold</text><path d="M478.4,459.2 L480.0,459.4 L482.3,459.8 L484.5,460.2 L486.3,460.8 L487.9,461.4 L489.6,461.6 L491.3,461.1 L492.9,460.2 L494.6,459.2 L496.3,458.1 L498.0,456.9 L499.7,455.8 L501.3,454.9 L502.9,454.2 L504.8,453.5 L506.9,452.6 L509.3,451.9 L511.5,451.8 L513.3,452.7 L514.9,454.3 L516.6,455.8 L518.3,457.1 L519.9,458.4 L521.6,459.2 L523.3,459.4 L525.0,459.1 L526.7,458.5 L528.4,457.6 L530.1,456.3 L531.8,454.8 L533.4,453.0 L535.1,450.9 L536.8,449.1 L538.4,447.6 L540.1,446.3 L541.9,445.7 L544.1,446.3 L546.4,447.5 L548.6,448.1 L550.4,447.3 L552.1,445.8 L553.7,444.0 L555.4,441.9 L557.1,439.5 L558.8,437.3 L560.5,435.2 L562.1,433.3 L563.8,432.2 L565.5,432.6 L567.2,433.8 L568.9,434.6 L570.6,434.5 L572.3,434.0 L574.0,433.2 L575.6,432.0 L577.3,430.4 L579.0,428.8 L580.7,427.2 L582.4,425.7 L584.1,424.8 L585.8,425.0 L587.5,426.0 L589.1,426.5 L590.8,426.0 L592.5,425.1 L594.2,424.4 L595.8,424.0 L597.5,423.8 L599.3,423.8 L601.5,424.3 L603.8,425.0 L606.0,425.4 L607.8,425.0 L609.5,424.1 L611.1,423.8 L612.8,424.5 L614.5,425.7 L616.1,426.5 L617.8,426.3 L619.5,425.7 L621.2,425.1 L622.9,424.4 L624.6,423.7 L626.3,423.8 L628.0,425.0 L629.8,427.0 L631.3,428.8 L632.6,430.1 L633.6,431.2 L634.7,432.2 L636.2,433.1 L637.7,434.0 L638.8,434.6" fill="none" stroke="#2a2ae6" stroke-width="0.75" stroke-linejoin="round"/>
<rect x="683" y="463.3" width="19.4" height="19.7" fill="#4a86e8"/>
<text x="692.2" y="476.9" font-size="11" font-weight="bold" fill="#fff" text-anchor="middle">3</text>
</svg>
<div class="t" style="top:5.67px;font-size:14.57px;color:#1c5fd4;left:13.50px;-webkit-text-stroke-width:0.06px;">GOLD SPOT (USD/OZ)</div>
<div class="t" style="top:37.78px;font-size:10.42px;color:#1c5fd4;left:13.50px;">Last Update</div>
<div class="t" style="top:50.18px;font-size:10.42px;color:#1c5fd4;left:13.50px;">30/01/15</div>
<div class="t" style="top:36.68px;font-size:9.00px;color:#4a4a4a;left:117.20px;width:0;display:flex;justify-content:center;"><span>Los Angeles</span></div>
<div class="t" style="top:47.38px;font-size:9.00px;color:#4a4a4a;left:117.20px;width:0;display:flex;justify-content:center;"><span>23:00</span></div>
<div class="t" style="top:36.68px;font-size:9.00px;color:#4a4a4a;left:183.50px;width:0;display:flex;justify-content:center;"><span>New-York</span></div>
<div class="t" style="top:47.38px;font-size:9.00px;color:#4a4a4a;left:183.50px;width:0;display:flex;justify-content:center;"><span>02:00</span></div>
<div class="t" style="top:36.68px;font-size:9.00px;color:#4a4a4a;left:241.00px;width:0;display:flex;justify-content:center;"><span>London</span></div>
<div class="t" style="top:47.38px;font-size:9.00px;color:#4a4a4a;left:241.00px;width:0;display:flex;justify-content:center;"><span>07:00</span></div>
<div class="t" style="top:36.68px;font-size:9.00px;color:#4a4a4a;left:290.00px;width:0;display:flex;justify-content:center;"><span>Paris</span></div>
<div class="t" style="top:47.38px;font-size:9.00px;color:#4a4a4a;left:290.00px;width:0;display:flex;justify-content:center;"><span>08:00</span></div>
<div class="t" style="top:36.68px;font-size:9.00px;color:#4a4a4a;left:336.00px;width:0;display:flex;justify-content:center;"><span>Tokyo</span></div>
<div class="t" style="top:47.38px;font-size:9.00px;color:#4a4a4a;left:336.00px;width:0;display:flex;justify-content:center;"><span>16:00</span></div>
<div class="t" style="top:36.68px;font-size:9.00px;color:#4a4a4a;left:385.50px;width:0;display:flex;justify-content:center;"><span>Sydney</span></div>
<div class="t" style="top:47.38px;font-size:9.00px;color:#4a4a4a;left:385.50px;width:0;display:flex;justify-content:center;"><span>18:00</span></div>
<div class="t" style="top:38.05px;font-size:10.45px;color:#1c5fd4;left:545.80px;">Last Price</div>
<div class="t" style="top:38.05px;font-size:10.45px;color:#1c5fd4;left:630.30px;">:</div>
<div class="t" style="top:38.01px;font-size:10.50px;color:#1c5fd4;right:7.90px;word-spacing:0.6px;">USD 1260.99</div>
<div class="t" style="top:50.25px;font-size:10.45px;color:#1c5fd4;left:545.80px;">Day performance</div>
<div class="t" style="top:50.25px;font-size:10.45px;color:#1c5fd4;left:630.30px;">:</div>
<div class="t" style="top:50.24px;font-size:10.47px;color:#1a8a1a;right:7.90px;">+3.1 (+0.25%)</div>
<div class="t" style="top:78.81px;font-size:10.74px;color:#000;left:628.70px;width:0;display:flex;justify-content:center;"><span>3D MARKETS POSITIONING</span></div>
<div class="t" style="left:551.9px;top:137px;width:45.3px;height:11px;background:#1f2e45;color:#fff;font-weight:bold;font-size:8.9px;text-align:center;line-height:12.6px">1</div>
<div class="t" style="left:605.9px;top:137px;width:45.3px;height:11px;background:#ff8a33;color:#fff;font-weight:bold;font-size:8.9px;text-align:center;line-height:12.6px">2</div>
<div class="t" style="left:660.0px;top:137px;width:45.3px;height:11px;background:#4a86e8;color:#fff;font-weight:bold;font-size:8.9px;text-align:center;line-height:12.6px">3</div>
<div class="t" style="top:160.35px;font-size:8.80px;color:#000;left:628.90px;width:0;display:flex;justify-content:center;"><span>Potential resume Downtrend in a</span></div>
<div class="t" style="top:170.15px;font-size:8.80px;color:#000;left:628.90px;width:0;display:flex;justify-content:center;"><span>pullback period</span></div>
<div class="t" style="left:550.4px;top:195.2px;width:7.6px;height:7.6px;border:1px solid #222;box-sizing:content-box"><i style="position:absolute;left:1.3px;right:1.3px;top:3.3px;height:1px;background:#111"></i><i style="position:absolute;top:1.3px;bottom:1.3px;left:3.3px;width:1px;background:#111"></i></div>
<div class="t" style="top:195.27px;font-size:9.60px;color:#000;left:569.00px;">Explanation</div>
<div class="t" style="top:257.00px;font-size:10.63px;color:#000;left:9.45px;">Weekly - Long Term Investors</div>
<div class="t" style="top:276.18px;font-size:9.00px;color:#1c5fd4;left:9.45px;">Closing Price</div>
<div class="t" style="top:276.10px;font-size:9.10px;color:#000;right:482.30px;">1294.12</div>
<div class="t" style="top:488.05px;font-size:9.75px;color:#000;left:119.20px;width:0;display:flex;justify-content:center;"><span>Potential more than 1 year trend duration</span></div>
<svg width="711" height="552" viewBox="0 0 711 552"><g transform="translate(222.00,258.95)"><circle cx="0" cy="0" r="3.05" fill="#f4f6f8" stroke="#98a2ab" stroke-width="1"/><path d="M-1.5,0h3M0,-1.5v3" stroke="#5a66a4" stroke-width="1.1" fill="none"/><path d="M2.4,2.5 L6.8,6.9" stroke="#3a3a3a" stroke-width="1.15" stroke-linecap="round"/></g></svg>
<div class="t" style="top:257.00px;font-size:10.63px;color:#000;left:244.10px;">Daily - Medium Term Investors</div>
<div class="t" style="top:276.18px;font-size:9.00px;color:#1c5fd4;left:244.10px;">Closing Price</div>
<div class="t" style="top:276.10px;font-size:9.10px;color:#000;right:247.70px;">1284.96</div>
<div class="t" style="top:488.05px;font-size:9.75px;color:#000;left:353.50px;width:0;display:flex;justify-content:center;"><span>Potential 3 to 6 months trend duration</span></div>
<svg width="711" height="552" viewBox="0 0 711 552"><g transform="translate(456.60,258.95)"><circle cx="0" cy="0" r="3.05" fill="#f4f6f8" stroke="#98a2ab" stroke-width="1"/><path d="M-1.5,0h3M0,-1.5v3" stroke="#5a66a4" stroke-width="1.1" fill="none"/><path d="M2.4,2.5 L6.8,6.9" stroke="#3a3a3a" stroke-width="1.15" stroke-linecap="round"/></g></svg>
<div class="t" style="top:257.00px;font-size:10.63px;color:#000;left:478.40px;">Hourly - Short Term Investors</div>
<div class="t" style="top:276.18px;font-size:9.00px;color:#1c5fd4;left:478.40px;">Last Price</div>
<div class="t" style="top:276.10px;font-size:9.10px;color:#000;right:13.40px;">1260.99</div>
<div class="t" style="top:488.05px;font-size:9.75px;color:#000;left:588.00px;width:0;display:flex;justify-content:center;"><span>Potential 3 to 5 weeks trend duration</span></div>
<svg width="711" height="552" viewBox="0 0 711 552"><g transform="translate(690.90,258.95)"><circle cx="0" cy="0" r="3.05" fill="#f4f6f8" stroke="#98a2ab" stroke-width="1"/><path d="M-1.5,0h3M0,-1.5v3" stroke="#5a66a4" stroke-width="1.1" fill="none"/><path d="M2.4,2.5 L6.8,6.9" stroke="#3a3a3a" stroke-width="1.15" stroke-linecap="round"/></g></svg>
<div class="t" style="top:521.02px;font-size:9.78px;color:#000;right:8.10px;">Copyright © 2012 - Management Joint Trust SA - www.FinGraphs.com</div>
<div class="t" style="top:536.22px;font-size:9.78px;color:#000;right:8.10px;">Source : MJT Statistics</div>
<svg width="711" height="552" viewBox="0 0 711 552"><defs>
<g id="bear"><ellipse cx="24" cy="26.9" rx="17.5" ry="0.9" fill="#6b5a4a" opacity="0.35"/><path d="M5.16,16.56 L5.38,16.23 L5.77,15.91 L6.23,15.57 L6.75,15.22 L7.36,14.85 L7.97,14.43 L8.61,13.90 L9.26,13.31 L9.87,12.76 L10.42,12.21 L10.93,11.70 L11.39,11.39 L11.77,11.48 L12.11,11.78 L12.53,11.85 L13.11,11.45 L13.77,10.83 L14.43,10.25 L15.05,9.84 L15.67,9.48 L16.33,9.11 L17.07,8.69 L17.86,8.27 L18.61,7.90 L19.25,7.62 L19.86,7.40 L20.51,7.22 L21.24,7.05 L22.01,6.91 L22.78,6.84 L23.56,6.84 L24.33,6.90 L25.06,6.99 L25.72,7.09 L26.34,7.22 L26.96,7.37 L27.59,7.56 L28.23,7.78 L28.86,7.97 L29.49,8.12 L30.13,8.24 L30.76,8.35 L31.39,8.48 L32.02,8.61 L32.66,8.73 L33.30,8.84 L33.93,8.95 L34.56,9.11 L35.17,9.35 L35.76,9.64 L36.30,10.03 L36.79,10.54 L37.23,11.15 L37.59,11.77 L37.88,12.37 L38.09,12.98 L38.20,13.67 L38.18,14.50 L38.07,15.41 L37.97,16.33 L37.88,17.24 L37.79,18.16 L37.82,18.99 L38.05,19.66 L38.39,20.25 L38.73,20.89 L39.06,21.62 L39.39,22.39 L39.64,23.16 L39.80,23.97 L39.88,24.77 L39.87,25.44 L39.80,25.94 L39.64,26.31 L39.34,26.58 L38.86,26.76 L38.24,26.85 L37.59,26.89 L36.87,26.90 L36.11,26.87 L35.54,26.73 L35.26,26.45 L35.17,26.07 L35.24,25.67 L35.56,25.29 L36.03,24.89 L36.30,24.46 L36.21,23.94 L35.92,23.40 L35.54,22.94 L35.05,22.54 L34.48,22.23 L34.02,22.18 L33.77,22.51 L33.64,23.09 L33.57,23.70 L33.56,24.28 L33.61,24.90 L33.72,25.44 L33.99,25.89 L34.31,26.28 L34.33,26.58 L33.84,26.81 L33.06,26.96 L32.28,27.04 L31.53,27.07 L30.78,27.04 L30.23,26.89 L29.97,26.61 L29.90,26.21 L29.92,25.67 L30.08,24.89 L30.32,23.97 L30.38,23.16 L30.15,22.54 L29.73,22.03 L29.24,21.65 L28.65,21.40 L27.97,21.29 L27.34,21.27 L26.77,21.29 L26.25,21.41 L25.82,21.72 L25.55,22.31 L25.37,23.10 L25.21,23.92 L25.11,24.80 L25.02,25.71 L24.76,26.43 L24.23,26.84 L23.53,27.06 L22.78,27.19 L21.95,27.28 L21.06,27.28 L20.35,27.19 L19.88,26.96 L19.59,26.64 L19.59,26.28 L20.07,25.93 L20.84,25.56 L21.42,25.06 L21.64,24.34 L21.68,23.50 L21.57,22.78 L21.28,22.26 L20.83,21.86 L20.35,21.57 L19.87,21.38 L19.35,21.32 L18.83,21.42 L18.34,21.72 L17.84,22.19 L17.32,22.78 L16.75,23.55 L16.16,24.43 L15.57,25.21 L15.01,25.84 L14.46,26.36 L13.82,26.73 L13.04,26.90 L12.18,26.92 L11.39,26.89 L10.67,26.83 L10.02,26.73 L9.57,26.58 L9.35,26.38 L9.34,26.12 L9.57,25.82 L10.17,25.50 L11.01,25.14 L11.77,24.68 L12.35,24.06 L12.85,23.34 L13.29,22.63 L13.72,21.94 L14.09,21.26 L14.28,20.66 L14.25,20.16 L14.04,19.75 L13.67,19.44 L13.09,19.29 L12.33,19.23 L11.54,19.14 L10.75,18.95 L9.91,18.73 L9.11,18.53 L8.35,18.37 L7.63,18.22 L6.99,18.08 L6.44,17.95 L5.98,17.82 L5.62,17.62 L5.34,17.31 L5.17,16.93Z" fill="#4a321c"/></g>
<g id="dn"><path d="M44.66,5.2V25" stroke="#e0222b" stroke-width="1.9" fill="none"/><path d="M41.3,23.1h6.72L44.66,29.4Z" fill="#e0222b"/></g>
<g id="bull"><ellipse cx="22" cy="27.6" rx="17" ry="0.9" fill="#555" opacity="0.35"/><path d="M11.39,14.89 L11.74,14.49 L12.10,14.17 L12.53,13.82 L13.11,13.40 L13.77,12.95 L14.43,12.53 L15.05,12.15 L15.67,11.80 L16.33,11.54 L17.07,11.43 L17.85,11.41 L18.61,11.39 L19.30,11.39 L19.98,11.38 L20.66,11.24 L21.36,10.88 L22.06,10.39 L22.78,9.87 L23.55,9.36 L24.33,8.83 L25.06,8.35 L25.73,7.94 L26.35,7.57 L26.96,7.29 L27.56,7.10 L28.15,6.99 L28.71,6.99 L29.24,7.09 L29.75,7.30 L30.23,7.59 L30.67,7.97 L31.08,8.43 L31.52,8.96 L32.01,9.59 L32.52,10.30 L33.04,11.01 L33.55,11.69 L34.07,12.37 L34.56,13.06 L35.02,13.75 L35.46,14.44 L35.85,15.19 L36.15,16.06 L36.38,16.99 L36.61,17.85 L36.80,18.60 L36.98,19.29 L37.21,19.90 L37.53,20.42 L37.90,20.87 L38.35,21.27 L38.98,21.62 L39.69,21.92 L40.25,22.18 L40.64,22.37 L40.88,22.50 L40.86,22.63 L40.46,22.77 L39.79,22.90 L39.11,23.01 L38.47,23.09 L37.81,23.15 L37.21,23.24 L36.70,23.35 L36.24,23.48 L35.85,23.70 L35.57,24.08 L35.36,24.55 L35.09,24.91 L34.69,25.12 L34.24,25.23 L33.80,25.21 L33.39,25.07 L32.99,24.82 L32.66,24.46 L32.42,23.93 L32.24,23.31 L32.05,22.78 L31.81,22.40 L31.55,22.12 L31.29,22.02 L31.04,22.17 L30.78,22.49 L30.53,22.94 L30.28,23.54 L30.04,24.26 L29.77,24.91 L29.52,25.42 L29.24,25.85 L28.86,26.20 L28.26,26.48 L27.55,26.67 L26.96,26.73 L26.56,26.63 L26.27,26.40 L26.13,26.13 L26.15,25.80 L26.33,25.42 L26.58,25.06 L26.96,24.77 L27.42,24.49 L27.80,24.15 L28.06,23.67 L28.23,23.12 L28.25,22.63 L28.07,22.24 L27.74,21.91 L27.34,21.72 L26.87,21.68 L26.33,21.78 L25.82,22.02 L25.38,22.45 L24.97,23.03 L24.61,23.70 L24.31,24.51 L24.06,25.41 L23.85,26.20 L23.70,26.81 L23.58,27.30 L23.39,27.64 L23.06,27.86 L22.66,27.92 L22.33,27.80 L22.08,27.43 L21.90,26.87 L21.87,26.20 L22.11,25.42 L22.50,24.53 L22.78,23.70 L22.89,22.94 L22.90,22.24 L22.78,21.65 L22.51,21.17 L22.11,20.79 L21.65,20.51 L21.10,20.30 L20.50,20.19 L19.90,20.20 L19.31,20.36 L18.73,20.64 L18.23,20.96 L17.80,21.30 L17.46,21.70 L17.32,22.18 L17.47,22.78 L17.82,23.48 L18.23,24.15 L18.68,24.78 L19.18,25.39 L19.59,25.97 L19.92,26.54 L20.16,27.08 L20.20,27.49 L19.93,27.79 L19.45,27.96 L18.99,27.95 L18.62,27.69 L18.25,27.25 L17.85,26.73 L17.37,26.17 L16.85,25.53 L16.33,24.91 L15.84,24.32 L15.34,23.75 L14.81,23.24 L14.22,22.81 L13.59,22.44 L12.91,22.18 L12.16,22.02 L11.36,21.97 L10.63,22.02 L10.01,22.18 L9.46,22.43 L8.96,22.78 L8.50,23.26 L8.09,23.84 L7.75,24.46 L7.49,25.11 L7.31,25.81 L7.14,26.43 L7.00,26.98 L6.89,27.46 L6.68,27.80 L6.30,27.97 L5.83,27.99 L5.47,27.80 L5.25,27.30 L5.14,26.59 L5.16,25.82 L5.36,25.04 L5.69,24.21 L6.08,23.39 L6.49,22.63 L6.96,21.88 L7.44,21.11 L7.95,20.28 L8.47,19.42 L8.96,18.61 L9.41,17.88 L9.84,17.20 L10.25,16.56 L10.64,15.95 L11.02,15.38Z" fill="#2b2b2b"/>
<path d="M11.5,15.0 L11.2,15.0 L10.6,15.0 L10.0,15.0 L9.5,14.9 L9.1,14.7 L8.7,14.4 L8.4,14.0 L8.2,13.7 L8.1,13.3 L8.0,12.9 L8.0,12.4 L8.1,12.0 L8.2,11.6 L8.4,11.2 L8.7,10.8 L9.0,10.5 L9.3,10.1 L9.7,9.8 L10.1,9.5 L10.5,9.3 L10.9,9.0 L11.3,8.8 L11.6,8.6 L11.8,8.5" fill="none" stroke="#2b2b2b" stroke-width="0.9" stroke-linecap="round"/></g>
<g id="up"><path d="M44.2,11V29.7" stroke="#169a1c" stroke-width="1.9" fill="none"/><path d="M40.9,11.9h6.6L44.2,5.4Z" fill="#169a1c"/></g>
</defs>
<use href="#bear" x="548" y="100"/><use href="#dn" x="548" y="100"/>
<use href="#bull" x="602" y="100"/><use href="#up" x="602" y="100"/>
<use href="#bear" x="656" y="100"/><use href="#dn" x="656" y="100"/>
<use href="#bear" transform="translate(7.84,288.6) scale(0.608,0.643)"/><path d="M34.40,292.1V304" stroke="#e0222b" stroke-width="1.15" fill="none"/><path d="M32.30,303.2h4.2L34.40,307.4Z" fill="#e0222b"/>
<use href="#bull" transform="translate(242.06,288.6) scale(0.59,0.646)"/><path d="M268.30,296V307.4" stroke="#169a1c" stroke-width="1.15" fill="none"/><path d="M266.20,296.6h4.2L268.30,292.5Z" fill="#169a1c"/>
<use href="#bear" transform="translate(476.84,288.6) scale(0.608,0.643)"/><path d="M503.30,292.1V304" stroke="#e0222b" stroke-width="1.15" fill="none"/><path d="M501.20,303.2h4.2L503.30,307.4Z" fill="#e0222b"/>
</svg>
</body></html>
